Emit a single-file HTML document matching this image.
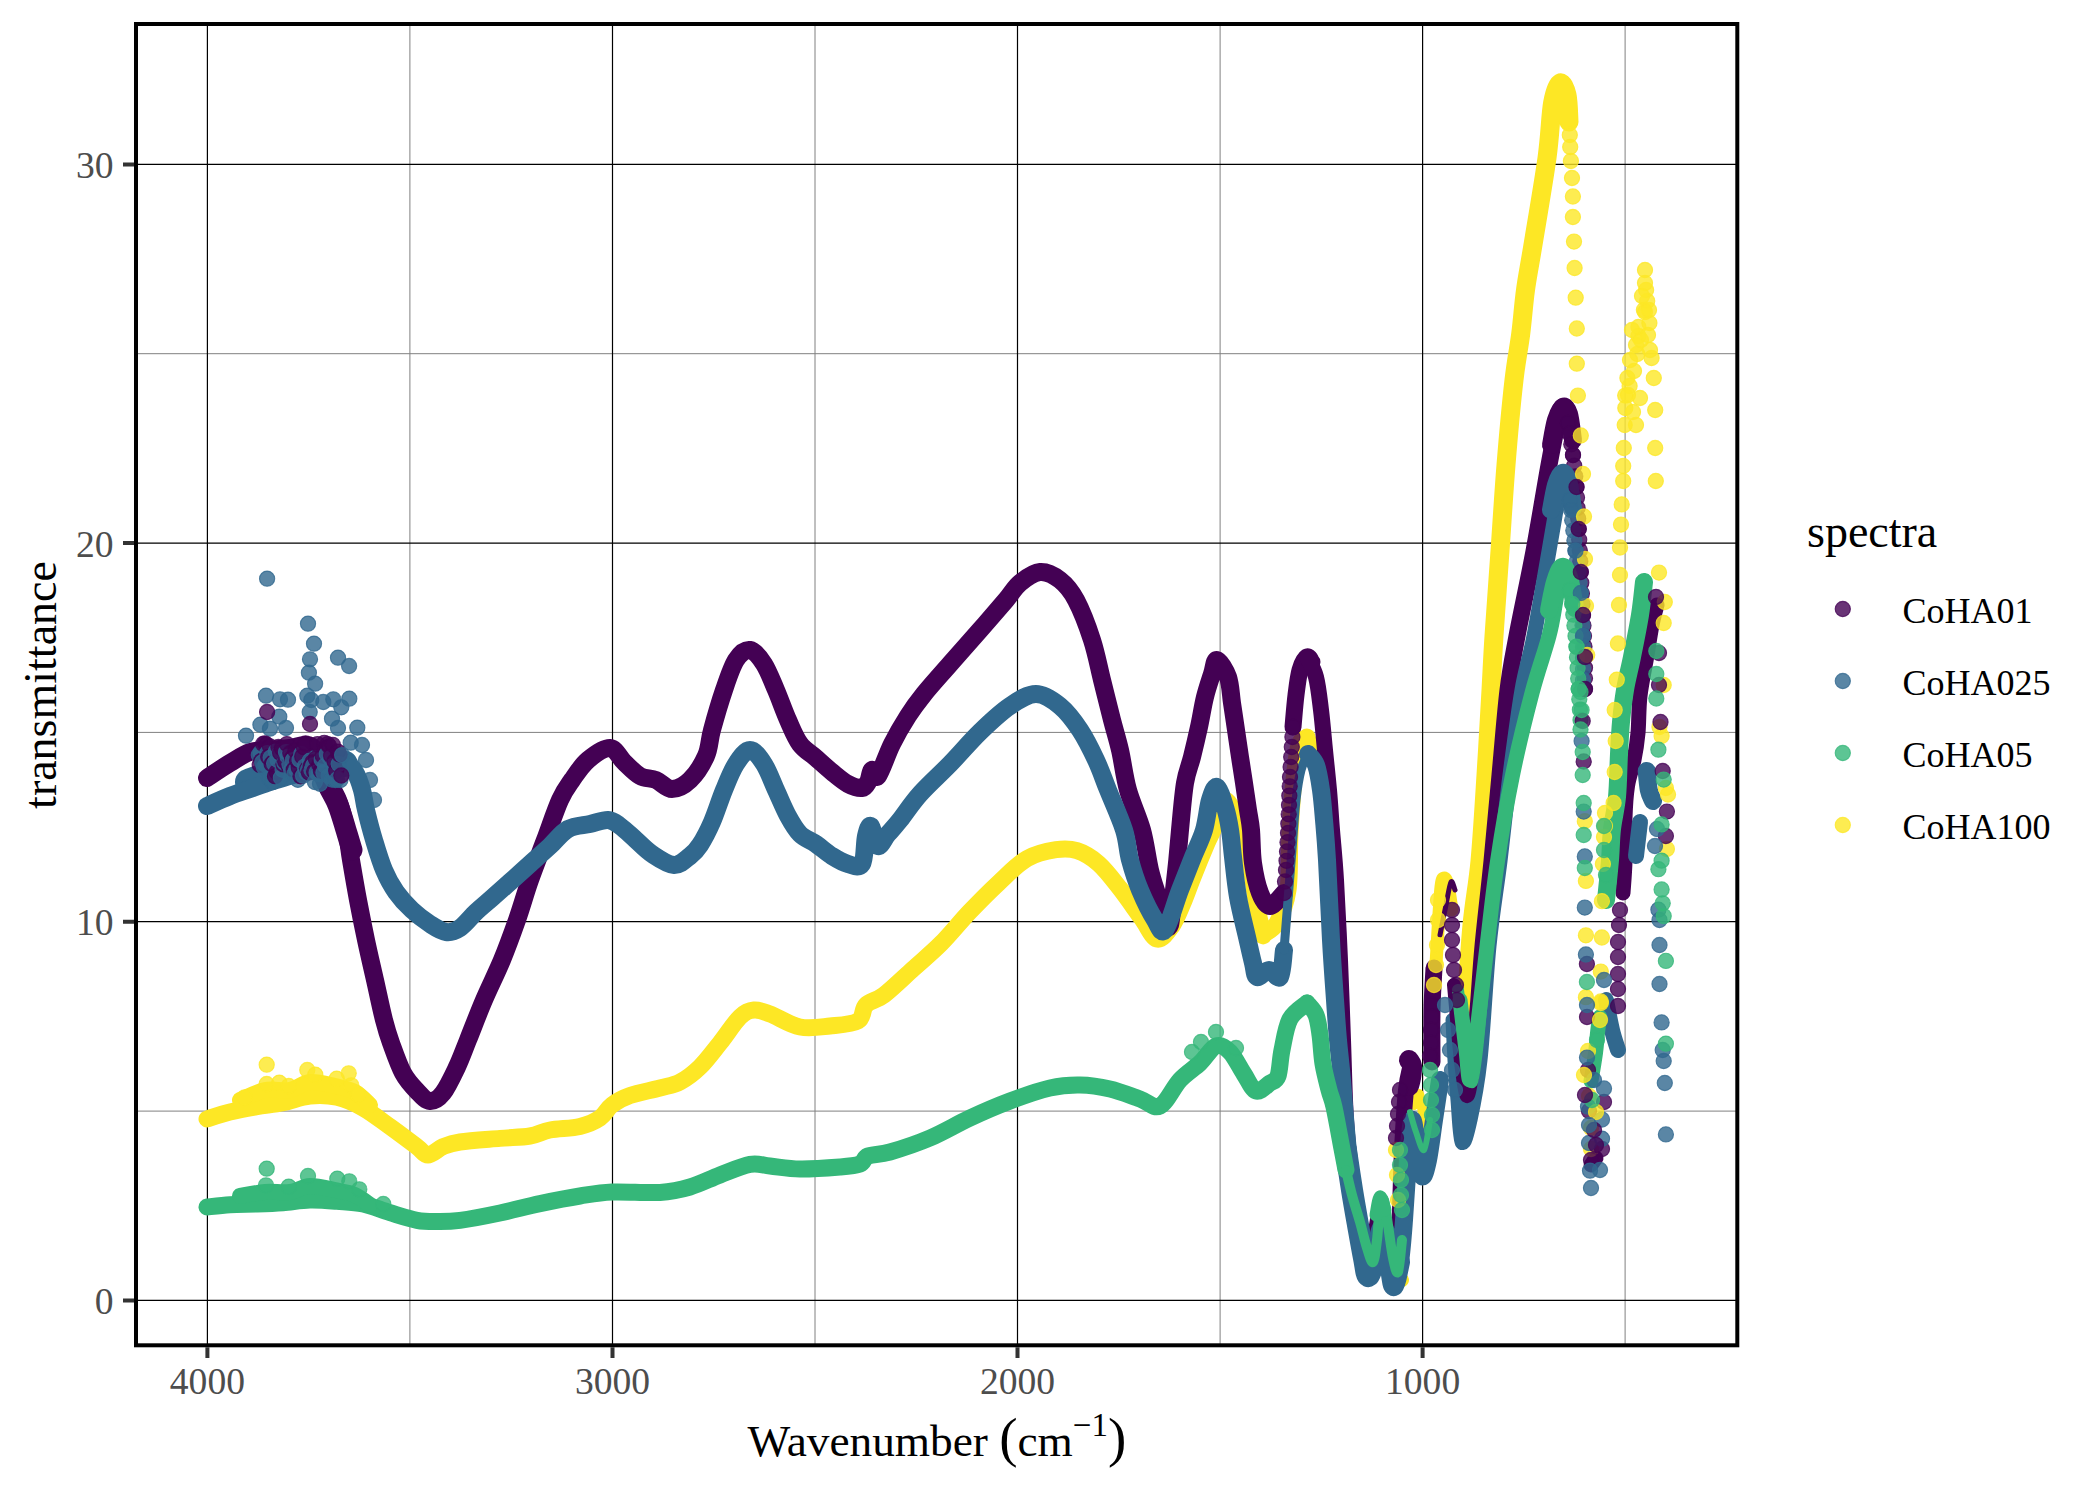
<!DOCTYPE html>
<html><head><meta charset="utf-8"><style>html,body{margin:0;padding:0;background:#fff;width:2100px;height:1500px;overflow:hidden}svg{display:block}</style></head><body>
<svg width="2100" height="1500" viewBox="0 0 2100 1500">
<rect width="2100" height="1500" fill="#fff"/>
<defs><clipPath id="pc"><rect x="136" y="24" width="1601.3" height="1321.3"/></clipPath></defs>
<path d="M409.9 24V1345.3M815.0 24V1345.3M1220.1 24V1345.3M1625.1 24V1345.3M136 1111.1H1737.3M136 732.4H1737.3M136 353.7H1737.3" stroke="#808080" stroke-width="1" fill="none"/>
<path d="M207.4 24V1345.3M612.5 24V1345.3M1017.5 24V1345.3M1422.6 24V1345.3M136 1300.4H1737.3M136 921.7H1737.3M136 543.1H1737.3M136 164.4H1737.3" stroke="#000" stroke-width="1.2" fill="none"/>
<g clip-path="url(#pc)">
<path d="M207.0 1119.0C210.8 1117.8 221.7 1114.0 230.0 1112.0C238.3 1110.0 248.2 1108.2 257.0 1106.7C265.8 1105.2 274.2 1104.5 283.0 1102.7C291.8 1100.9 301.0 1096.9 310.0 1096.0C319.0 1095.1 328.2 1095.3 337.0 1097.3C345.8 1099.3 354.2 1103.1 363.0 1108.0C371.8 1112.9 381.0 1120.2 390.0 1126.7C399.0 1133.2 410.7 1142.0 417.0 1146.7C423.3 1151.4 423.7 1155.0 428.0 1155.0C432.3 1155.0 437.7 1148.9 443.0 1146.7C448.3 1144.5 450.5 1143.4 460.0 1142.0C469.5 1140.6 488.3 1139.4 500.0 1138.4C511.7 1137.4 521.7 1137.4 530.0 1136.0C538.3 1134.6 541.7 1131.6 550.0 1130.0C558.3 1128.4 571.7 1128.4 580.0 1126.4C588.3 1124.4 594.7 1121.6 600.0 1118.0C605.3 1114.4 607.0 1108.7 612.0 1105.0C617.0 1101.3 622.0 1098.4 630.0 1095.6C638.0 1092.8 651.7 1090.3 660.0 1088.0C668.3 1085.7 673.3 1085.5 680.0 1082.0C686.7 1078.5 693.3 1073.5 700.0 1067.0C706.7 1060.5 713.3 1051.3 720.0 1043.0C726.7 1034.7 734.3 1022.5 740.0 1017.0C745.7 1011.5 749.0 1010.5 754.0 1010.0C759.0 1009.5 762.3 1011.2 770.0 1014.0C777.7 1016.8 790.0 1025.0 800.0 1027.0C810.0 1029.0 820.3 1027.0 830.0 1026.0C839.7 1025.0 852.0 1024.5 858.0 1021.0C864.0 1017.5 861.7 1009.3 866.0 1005.0C870.3 1000.7 876.2 1001.0 884.0 995.0C891.8 989.0 903.5 977.6 913.0 969.0C922.5 960.4 931.5 953.2 941.0 943.6C950.5 934.0 960.4 921.5 970.0 911.4C979.6 901.3 989.1 891.7 998.6 882.9C1008.1 874.1 1017.4 864.1 1027.0 858.6C1036.6 853.1 1047.7 851.0 1056.0 849.7C1064.3 848.4 1069.9 848.4 1077.0 850.7C1084.1 853.0 1091.4 857.3 1098.6 863.6C1105.8 869.9 1112.9 879.5 1120.0 888.6C1127.1 897.7 1135.2 909.6 1141.4 918.0C1147.6 926.4 1151.9 937.7 1157.0 939.0C1162.1 940.3 1167.7 932.0 1172.0 926.0C1176.3 920.0 1179.5 911.2 1183.0 903.0C1186.5 894.8 1189.0 887.0 1193.0 877.0C1197.0 867.0 1203.7 850.8 1207.0 843.0C1210.3 835.2 1210.0 837.2 1213.0 830.0C1216.0 822.8 1220.5 800.8 1225.0 800.0C1229.5 799.2 1236.3 818.3 1240.0 825.0C1243.7 831.7 1244.2 826.3 1247.0 840.0C1249.8 853.7 1254.3 891.5 1257.0 907.0C1259.7 922.5 1261.8 928.5 1263.0 933.0C1264.2 937.5 1261.7 935.7 1264.0 934.0C1266.3 932.3 1273.0 930.3 1277.0 923.0C1281.0 915.7 1285.8 905.0 1288.0 890.0C1290.2 875.0 1289.0 851.3 1290.0 833.0C1291.0 814.7 1292.5 794.7 1294.0 780.0C1295.5 765.3 1296.8 752.2 1299.0 745.0C1301.2 737.8 1305.7 738.3 1307.0 737.0" stroke="#FDE725" stroke-width="17" stroke-linecap="round" stroke-linejoin="round" fill="none"/>
<path d="M240.0 1100.0C244.2 1098.3 256.7 1091.7 265.0 1090.0C273.3 1088.3 282.5 1091.3 290.0 1090.0C297.5 1088.7 302.5 1082.7 310.0 1082.0C317.5 1081.3 327.5 1084.3 335.0 1086.0C342.5 1087.7 349.2 1088.8 355.0 1092.0C360.8 1095.2 367.5 1102.8 370.0 1105.0" stroke="#FDE725" stroke-width="16" stroke-linecap="round" stroke-linejoin="round" fill="none"/>
<circle cx="266.7" cy="1064.7" r="7.6" fill="#FDE725" fill-opacity="0.8" stroke="#FDE725" stroke-opacity="0.8" stroke-width="1.1"/>
<circle cx="307.3" cy="1070.0" r="7.6" fill="#FDE725" fill-opacity="0.8" stroke="#FDE725" stroke-opacity="0.8" stroke-width="1.1"/>
<circle cx="348.7" cy="1073.3" r="7.6" fill="#FDE725" fill-opacity="0.8" stroke="#FDE725" stroke-opacity="0.8" stroke-width="1.1"/>
<circle cx="266.7" cy="1084.0" r="7.6" fill="#FDE725" fill-opacity="0.8" stroke="#FDE725" stroke-opacity="0.8" stroke-width="1.1"/>
<circle cx="279.3" cy="1082.7" r="7.6" fill="#FDE725" fill-opacity="0.8" stroke="#FDE725" stroke-opacity="0.8" stroke-width="1.1"/>
<circle cx="288.7" cy="1086.0" r="7.6" fill="#FDE725" fill-opacity="0.8" stroke="#FDE725" stroke-opacity="0.8" stroke-width="1.1"/>
<circle cx="315.3" cy="1074.7" r="7.6" fill="#FDE725" fill-opacity="0.8" stroke="#FDE725" stroke-opacity="0.8" stroke-width="1.1"/>
<circle cx="336.7" cy="1078.7" r="7.6" fill="#FDE725" fill-opacity="0.8" stroke="#FDE725" stroke-opacity="0.8" stroke-width="1.1"/>
<circle cx="351.3" cy="1085.3" r="7.6" fill="#FDE725" fill-opacity="0.8" stroke="#FDE725" stroke-opacity="0.8" stroke-width="1.1"/>
<circle cx="358.0" cy="1094.7" r="7.6" fill="#FDE725" fill-opacity="0.8" stroke="#FDE725" stroke-opacity="0.8" stroke-width="1.1"/>
<circle cx="244.7" cy="1097.3" r="7.6" fill="#FDE725" fill-opacity="0.8" stroke="#FDE725" stroke-opacity="0.8" stroke-width="1.1"/>
<path d="M1307.0 737.0C1308.5 739.5 1313.5 743.2 1316.0 752.0C1318.5 760.8 1320.3 775.3 1322.0 790.0C1323.7 804.7 1324.7 821.7 1326.0 840.0C1327.3 858.3 1328.8 880.0 1330.0 900.0C1331.2 920.0 1332.0 941.7 1333.0 960.0C1334.0 978.3 1334.8 993.3 1336.0 1010.0C1337.2 1026.7 1338.7 1041.7 1340.0 1060.0C1341.3 1078.3 1342.3 1100.0 1344.0 1120.0C1345.7 1140.0 1347.7 1161.7 1350.0 1180.0C1352.3 1198.3 1355.3 1216.3 1358.0 1230.0C1360.7 1243.7 1363.0 1256.0 1366.0 1262.0C1369.0 1268.0 1373.0 1273.0 1376.0 1266.0C1379.0 1259.0 1381.7 1222.7 1384.0 1220.0C1386.3 1217.3 1388.0 1240.7 1390.0 1250.0C1392.0 1259.3 1394.0 1271.0 1396.0 1276.0C1398.0 1281.0 1401.0 1279.3 1402.0 1280.0" stroke="#FDE725" stroke-width="14" stroke-linecap="round" stroke-linejoin="round" fill="none"/>
<path d="M1414.0 1105.0C1414.8 1103.2 1417.3 1091.5 1419.0 1094.0C1420.7 1096.5 1422.5 1111.0 1424.0 1120.0C1425.5 1129.0 1426.7 1148.0 1428.0 1148.0C1429.3 1148.0 1431.3 1124.7 1432.0 1120.0" stroke="#FDE725" stroke-width="10" stroke-linecap="round" stroke-linejoin="round" fill="none"/>
<path d="M1434.0 1000.0C1434.7 988.3 1436.8 948.8 1438.0 930.0C1439.2 911.2 1440.0 895.7 1441.0 887.0C1442.0 878.3 1442.8 878.3 1444.0 878.0C1445.2 877.7 1446.7 879.7 1448.0 885.0C1449.3 890.3 1451.3 905.8 1452.0 910.0" stroke="#FDE725" stroke-width="13" stroke-linecap="round" stroke-linejoin="round" fill="none"/>
<path d="M1466.0 1008.0C1467.0 994.2 1469.7 949.5 1472.0 925.0C1474.3 900.5 1477.7 886.0 1480.0 861.0C1482.3 836.0 1484.2 803.5 1486.0 775.0C1487.8 746.5 1489.7 713.2 1491.0 690.0C1492.3 666.8 1492.5 659.2 1494.0 636.0C1495.5 612.8 1498.0 579.5 1500.0 551.0C1502.0 522.5 1503.7 493.5 1506.0 465.0C1508.3 436.5 1511.5 401.8 1514.0 380.0C1516.5 358.2 1518.8 349.0 1520.7 334.0C1522.6 319.0 1523.5 304.7 1525.5 290.0C1527.5 275.3 1529.2 268.0 1532.8 246.0C1536.4 224.0 1543.7 181.8 1547.0 158.0C1550.3 134.2 1550.4 115.5 1552.6 103.0C1554.8 90.5 1557.6 84.3 1560.0 83.0C1562.4 81.7 1565.5 88.5 1567.0 95.0C1568.5 101.5 1568.7 117.5 1569.0 122.0" stroke="#FDE725" stroke-width="19" stroke-linecap="round" stroke-linejoin="round" fill="none"/>
<path d="M207.0 778.0C210.8 775.5 222.8 767.3 230.0 763.0C237.2 758.7 243.3 754.2 250.0 752.0C256.7 749.8 263.3 750.7 270.0 750.0C276.7 749.3 284.2 748.8 290.0 748.0C295.8 747.2 300.8 744.7 305.0 745.0C309.2 745.3 311.7 745.0 315.0 750.0C318.3 755.0 321.2 766.7 325.0 775.0C328.8 783.3 334.8 792.5 338.0 800.0C341.2 807.5 342.3 813.3 344.0 820.0C345.7 826.7 346.8 833.3 348.0 840.0C349.2 846.7 349.3 850.0 351.0 860.0C352.7 870.0 355.5 886.7 358.0 900.0C360.5 913.3 363.2 926.7 366.0 940.0C368.8 953.3 372.0 966.7 375.0 980.0C378.0 993.3 381.3 1009.5 384.0 1020.0C386.7 1030.5 387.8 1034.2 391.0 1043.0C394.2 1051.8 398.7 1065.0 403.0 1073.0C407.3 1081.0 412.5 1086.3 417.0 1091.0C421.5 1095.7 425.7 1100.7 430.0 1101.0C434.3 1101.3 438.5 1098.7 443.0 1093.0C447.5 1087.3 452.8 1075.8 457.0 1067.0C461.2 1058.2 463.5 1051.2 468.0 1040.0C472.5 1028.8 478.3 1013.3 484.0 1000.0C489.7 986.7 496.5 973.3 502.0 960.0C507.5 946.7 512.3 933.3 517.0 920.0C521.7 906.7 525.3 893.3 530.0 880.0C534.7 866.7 540.0 853.3 545.0 840.0C550.0 826.7 555.5 810.0 560.0 800.0C564.5 790.0 567.3 786.7 572.0 780.0C576.7 773.3 581.7 765.3 588.0 760.0C594.3 754.7 604.0 747.7 610.0 748.0C616.0 748.3 619.0 757.3 624.0 762.0C629.0 766.7 634.7 773.0 640.0 776.0C645.3 779.0 650.7 777.8 656.0 780.0C661.3 782.2 666.3 789.0 672.0 789.0C677.7 789.0 684.3 785.5 690.0 780.0C695.7 774.5 702.3 764.3 706.0 756.0C709.7 747.7 709.0 741.0 712.0 730.0C715.0 719.0 720.0 701.7 724.0 690.0C728.0 678.3 731.7 666.7 736.0 660.0C740.3 653.3 745.3 649.3 750.0 650.0C754.7 650.7 759.7 657.3 764.0 664.0C768.3 670.7 772.0 680.7 776.0 690.0C780.0 699.3 784.0 711.0 788.0 720.0C792.0 729.0 795.3 737.7 800.0 744.0C804.7 750.3 810.7 753.3 816.0 758.0C821.3 762.7 826.7 767.7 832.0 772.0C837.3 776.3 843.0 781.3 848.0 784.0C853.0 786.7 858.7 788.3 862.0 788.0C865.3 787.7 866.3 785.0 868.0 782.0C869.7 779.0 870.3 771.0 872.0 770.0C873.7 769.0 874.7 780.3 878.0 776.0C881.3 771.7 887.0 754.0 892.0 744.0C897.0 734.0 902.7 724.3 908.0 716.0C913.3 707.7 917.0 702.7 924.0 694.0C931.0 685.3 940.7 674.7 950.0 664.0C959.3 653.3 970.7 640.7 980.0 630.0C989.3 619.3 999.3 607.8 1006.0 600.0C1012.7 592.2 1014.3 587.7 1020.0 583.0C1025.7 578.3 1033.3 572.5 1040.0 572.0C1046.7 571.5 1054.0 575.3 1060.0 580.0C1066.0 584.7 1070.7 590.0 1076.0 600.0C1081.3 610.0 1087.7 626.7 1092.0 640.0C1096.3 653.3 1098.7 666.7 1102.0 680.0C1105.3 693.3 1109.0 708.3 1112.0 720.0C1115.0 731.7 1117.3 738.3 1120.0 750.0C1122.7 761.7 1124.3 776.7 1128.0 790.0C1131.7 803.3 1138.3 816.7 1142.0 830.0C1145.7 843.3 1147.3 858.8 1150.0 870.0C1152.7 881.2 1155.5 888.7 1158.0 897.0C1160.5 905.3 1163.0 915.3 1165.0 920.0C1167.0 924.7 1168.5 930.0 1170.0 925.0C1171.5 920.0 1172.8 900.3 1174.0 890.0C1175.2 879.7 1176.0 873.0 1177.0 863.0C1178.0 853.0 1178.7 843.3 1180.0 830.0C1181.3 816.7 1183.0 795.2 1185.0 783.0C1187.0 770.8 1189.7 766.3 1192.0 757.0C1194.3 747.7 1196.8 737.0 1199.0 727.0C1201.2 717.0 1202.8 705.8 1205.0 697.0C1207.2 688.2 1210.0 680.2 1212.0 674.0C1214.0 667.8 1214.3 659.5 1217.0 660.0C1219.7 660.5 1225.5 669.8 1228.0 677.0C1230.5 684.2 1230.7 694.2 1232.0 703.0C1233.3 711.8 1234.7 721.0 1236.0 730.0C1237.3 739.0 1238.7 748.2 1240.0 757.0C1241.3 765.8 1242.7 774.2 1244.0 783.0C1245.3 791.8 1246.8 802.2 1248.0 810.0C1249.2 817.8 1250.2 821.2 1251.0 830.0C1251.8 838.8 1251.5 852.5 1253.0 863.0C1254.5 873.5 1257.2 885.8 1260.0 893.0C1262.8 900.2 1266.0 906.0 1270.0 906.0C1274.0 906.0 1281.7 895.2 1284.0 893.0" stroke="#440154" stroke-width="18" stroke-linecap="round" stroke-linejoin="round" fill="none"/>
<path d="M1293.0 727.0C1293.5 721.7 1294.8 704.5 1296.0 695.0C1297.2 685.5 1298.2 676.3 1300.0 670.0C1301.8 663.7 1305.0 658.3 1307.0 657.0C1309.0 655.7 1311.2 661.2 1312.0 662.0" stroke="#440154" stroke-width="17" stroke-linecap="round" stroke-linejoin="round" fill="none"/>
<path d="M318.0 760.0C319.7 764.2 324.7 777.5 328.0 785.0C331.3 792.5 335.0 797.5 338.0 805.0C341.0 812.5 343.7 822.5 346.0 830.0C348.3 837.5 351.0 846.7 352.0 850.0" stroke="#440154" stroke-width="21" stroke-linecap="round" stroke-linejoin="round" fill="none"/>
<path d="M1307.0 657.0C1308.5 660.3 1313.7 668.2 1316.0 677.0C1318.3 685.8 1319.5 697.8 1321.0 710.0C1322.5 722.2 1323.7 736.7 1325.0 750.0C1326.3 763.3 1327.8 776.7 1329.0 790.0C1330.2 803.3 1330.8 815.0 1332.0 830.0C1333.2 845.0 1334.7 858.3 1336.0 880.0C1337.3 901.7 1338.8 933.3 1340.0 960.0C1341.2 986.7 1342.0 1013.3 1343.0 1040.0C1344.0 1066.7 1344.5 1096.7 1346.0 1120.0C1347.5 1143.3 1349.7 1161.7 1352.0 1180.0C1354.3 1198.3 1357.3 1216.0 1360.0 1230.0C1362.7 1244.0 1365.3 1264.0 1368.0 1264.0C1370.7 1264.0 1374.0 1238.2 1376.0 1230.0C1378.0 1221.8 1378.3 1213.3 1380.0 1215.0C1381.7 1216.7 1383.8 1229.8 1386.0 1240.0C1388.2 1250.2 1390.8 1277.7 1393.0 1276.0C1395.2 1274.3 1397.5 1251.0 1399.0 1230.0C1400.5 1209.0 1400.8 1173.3 1402.0 1150.0C1403.2 1126.7 1404.5 1104.3 1406.0 1090.0C1407.5 1075.7 1410.2 1068.3 1411.0 1064.0" stroke="#440154" stroke-width="16" stroke-linecap="round" stroke-linejoin="round" fill="none"/>
<path d="M1409.0 1060.0C1409.5 1061.0 1411.7 1063.0 1412.0 1066.0C1412.3 1069.0 1411.5 1074.7 1411.0 1078.0C1410.5 1081.3 1409.3 1084.7 1409.0 1086.0" stroke="#440154" stroke-width="20" stroke-linecap="round" stroke-linejoin="round" fill="none"/>
<path d="M1432.0 1062.0C1432.0 1053.3 1431.7 1025.7 1432.0 1010.0C1432.3 994.3 1433.7 975.0 1434.0 968.0" stroke="#440154" stroke-width="17" stroke-linecap="round" stroke-linejoin="round" fill="none"/>
<path d="M1440.0 935.0C1441.0 930.0 1444.2 913.8 1446.0 905.0C1447.8 896.2 1449.5 884.5 1451.0 882.0C1452.5 879.5 1454.3 888.7 1455.0 890.0" stroke="#440154" stroke-width="5" stroke-linecap="round" stroke-linejoin="round" fill="none"/>
<path d="M1458.0 1020.0C1459.0 1030.0 1462.3 1067.0 1464.0 1080.0C1465.7 1093.0 1466.5 1101.3 1468.0 1098.0C1469.5 1094.7 1471.3 1074.7 1473.0 1060.0C1474.7 1045.3 1476.3 1029.0 1478.0 1010.0C1479.7 991.0 1480.7 970.8 1483.0 946.0C1485.3 921.2 1489.2 889.5 1492.0 861.0C1494.8 832.5 1497.3 803.5 1500.0 775.0C1502.7 746.5 1505.2 713.2 1508.0 690.0C1510.8 666.8 1512.7 659.2 1517.0 636.0C1521.3 612.8 1528.7 579.5 1534.0 551.0C1539.3 522.5 1545.3 485.2 1549.0 465.0C1552.7 444.8 1553.8 439.7 1556.0 430.0C1558.2 420.3 1560.0 408.2 1562.0 407.0C1564.0 405.8 1567.0 420.3 1568.0 423.0" stroke="#440154" stroke-width="17" stroke-linecap="round" stroke-linejoin="round" fill="none"/>
<path d="M1551.0 445.0C1551.8 440.8 1554.0 426.3 1556.0 420.0C1558.0 413.7 1560.8 408.0 1563.0 407.0C1565.2 406.0 1567.3 408.5 1569.0 414.0C1570.7 419.5 1572.3 435.7 1573.0 440.0" stroke="#440154" stroke-width="18" stroke-linecap="round" stroke-linejoin="round" fill="none"/>
<circle cx="1568.0" cy="423.0" r="7.6" fill="#440154" fill-opacity="0.8" stroke="#440154" stroke-opacity="0.8" stroke-width="1.1"/>
<circle cx="1569.7" cy="433.7" r="7.6" fill="#440154" fill-opacity="0.8" stroke="#440154" stroke-opacity="0.8" stroke-width="1.1"/>
<circle cx="1571.3" cy="444.3" r="7.6" fill="#440154" fill-opacity="0.8" stroke="#440154" stroke-opacity="0.8" stroke-width="1.1"/>
<circle cx="1573.0" cy="455.0" r="7.6" fill="#440154" fill-opacity="0.8" stroke="#440154" stroke-opacity="0.8" stroke-width="1.1"/>
<circle cx="1574.2" cy="465.7" r="7.6" fill="#440154" fill-opacity="0.8" stroke="#440154" stroke-opacity="0.8" stroke-width="1.1"/>
<circle cx="1575.3" cy="476.3" r="7.6" fill="#440154" fill-opacity="0.8" stroke="#440154" stroke-opacity="0.8" stroke-width="1.1"/>
<circle cx="1576.5" cy="487.0" r="7.6" fill="#440154" fill-opacity="0.8" stroke="#440154" stroke-opacity="0.8" stroke-width="1.1"/>
<circle cx="1577.0" cy="497.5" r="7.6" fill="#440154" fill-opacity="0.8" stroke="#440154" stroke-opacity="0.8" stroke-width="1.1"/>
<circle cx="1577.6" cy="508.0" r="7.6" fill="#440154" fill-opacity="0.8" stroke="#440154" stroke-opacity="0.8" stroke-width="1.1"/>
<circle cx="1578.2" cy="518.5" r="7.6" fill="#440154" fill-opacity="0.8" stroke="#440154" stroke-opacity="0.8" stroke-width="1.1"/>
<circle cx="1578.7" cy="529.0" r="7.6" fill="#440154" fill-opacity="0.8" stroke="#440154" stroke-opacity="0.8" stroke-width="1.1"/>
<circle cx="1579.2" cy="539.8" r="7.6" fill="#440154" fill-opacity="0.8" stroke="#440154" stroke-opacity="0.8" stroke-width="1.1"/>
<circle cx="1579.8" cy="550.5" r="7.6" fill="#440154" fill-opacity="0.8" stroke="#440154" stroke-opacity="0.8" stroke-width="1.1"/>
<circle cx="1580.3" cy="561.2" r="7.6" fill="#440154" fill-opacity="0.8" stroke="#440154" stroke-opacity="0.8" stroke-width="1.1"/>
<circle cx="1580.8" cy="572.0" r="7.6" fill="#440154" fill-opacity="0.8" stroke="#440154" stroke-opacity="0.8" stroke-width="1.1"/>
<circle cx="1581.3" cy="582.8" r="7.6" fill="#440154" fill-opacity="0.8" stroke="#440154" stroke-opacity="0.8" stroke-width="1.1"/>
<circle cx="1581.9" cy="593.5" r="7.6" fill="#440154" fill-opacity="0.8" stroke="#440154" stroke-opacity="0.8" stroke-width="1.1"/>
<circle cx="1582.5" cy="604.2" r="7.6" fill="#440154" fill-opacity="0.8" stroke="#440154" stroke-opacity="0.8" stroke-width="1.1"/>
<circle cx="1583.0" cy="615.0" r="7.6" fill="#440154" fill-opacity="0.8" stroke="#440154" stroke-opacity="0.8" stroke-width="1.1"/>
<circle cx="1583.5" cy="625.5" r="7.6" fill="#440154" fill-opacity="0.8" stroke="#440154" stroke-opacity="0.8" stroke-width="1.1"/>
<circle cx="1584.0" cy="636.0" r="7.6" fill="#440154" fill-opacity="0.8" stroke="#440154" stroke-opacity="0.8" stroke-width="1.1"/>
<circle cx="1584.5" cy="646.5" r="7.6" fill="#440154" fill-opacity="0.8" stroke="#440154" stroke-opacity="0.8" stroke-width="1.1"/>
<circle cx="1585.0" cy="657.0" r="7.6" fill="#440154" fill-opacity="0.8" stroke="#440154" stroke-opacity="0.8" stroke-width="1.1"/>
<circle cx="1585.0" cy="667.7" r="7.6" fill="#440154" fill-opacity="0.8" stroke="#440154" stroke-opacity="0.8" stroke-width="1.1"/>
<circle cx="1585.0" cy="678.3" r="7.6" fill="#440154" fill-opacity="0.8" stroke="#440154" stroke-opacity="0.8" stroke-width="1.1"/>
<circle cx="1585.0" cy="689.0" r="7.6" fill="#440154" fill-opacity="0.8" stroke="#440154" stroke-opacity="0.8" stroke-width="1.1"/>
<path d="M1623.0 893.0C1623.3 887.7 1624.7 873.5 1625.0 861.0C1625.3 848.5 1624.6 830.5 1625.0 818.0C1625.4 805.5 1626.0 795.7 1627.5 786.0C1629.0 776.3 1632.2 768.8 1634.0 760.0C1635.8 751.2 1637.0 743.7 1638.0 733.0C1639.0 722.3 1638.5 708.7 1640.0 696.0C1641.5 683.3 1644.7 668.8 1646.7 657.0C1648.7 645.2 1650.3 633.7 1652.0 625.0C1653.7 616.3 1656.2 608.3 1657.0 605.0" stroke="#440154" stroke-width="15" stroke-linecap="round" stroke-linejoin="round" fill="none"/>
<path d="M1591.0 1165.0 L1596.0 1158.0" stroke="#440154" stroke-width="15" stroke-linecap="round" stroke-linejoin="round" fill="none"/>
<path d="M248.0 782.0C251.7 780.7 261.3 776.7 270.0 774.0C278.7 771.3 290.0 768.0 300.0 766.0C310.0 764.0 322.5 762.3 330.0 762.0C337.5 761.7 342.5 763.7 345.0 764.0" stroke="#31688E" stroke-width="26" stroke-linecap="round" stroke-linejoin="round" fill="none"/>
<circle cx="267.1" cy="578.7" r="7.6" fill="#31688E" fill-opacity="0.8" stroke="#31688E" stroke-opacity="0.8" stroke-width="1.1"/>
<circle cx="308.0" cy="623.7" r="7.6" fill="#31688E" fill-opacity="0.8" stroke="#31688E" stroke-opacity="0.8" stroke-width="1.1"/>
<circle cx="314.0" cy="643.7" r="7.6" fill="#31688E" fill-opacity="0.8" stroke="#31688E" stroke-opacity="0.8" stroke-width="1.1"/>
<circle cx="310.0" cy="659.3" r="7.6" fill="#31688E" fill-opacity="0.8" stroke="#31688E" stroke-opacity="0.8" stroke-width="1.1"/>
<circle cx="308.9" cy="672.7" r="7.6" fill="#31688E" fill-opacity="0.8" stroke="#31688E" stroke-opacity="0.8" stroke-width="1.1"/>
<circle cx="315.1" cy="683.7" r="7.6" fill="#31688E" fill-opacity="0.8" stroke="#31688E" stroke-opacity="0.8" stroke-width="1.1"/>
<circle cx="338.0" cy="657.7" r="7.6" fill="#31688E" fill-opacity="0.8" stroke="#31688E" stroke-opacity="0.8" stroke-width="1.1"/>
<circle cx="349.1" cy="666.0" r="7.6" fill="#31688E" fill-opacity="0.8" stroke="#31688E" stroke-opacity="0.8" stroke-width="1.1"/>
<circle cx="266.0" cy="695.7" r="7.6" fill="#31688E" fill-opacity="0.8" stroke="#31688E" stroke-opacity="0.8" stroke-width="1.1"/>
<circle cx="280.0" cy="699.3" r="7.6" fill="#31688E" fill-opacity="0.8" stroke="#31688E" stroke-opacity="0.8" stroke-width="1.1"/>
<circle cx="288.0" cy="699.7" r="7.6" fill="#31688E" fill-opacity="0.8" stroke="#31688E" stroke-opacity="0.8" stroke-width="1.1"/>
<circle cx="307.3" cy="695.7" r="7.6" fill="#31688E" fill-opacity="0.8" stroke="#31688E" stroke-opacity="0.8" stroke-width="1.1"/>
<circle cx="311.3" cy="700.0" r="7.6" fill="#31688E" fill-opacity="0.8" stroke="#31688E" stroke-opacity="0.8" stroke-width="1.1"/>
<circle cx="323.3" cy="702.0" r="7.6" fill="#31688E" fill-opacity="0.8" stroke="#31688E" stroke-opacity="0.8" stroke-width="1.1"/>
<circle cx="333.3" cy="699.3" r="7.6" fill="#31688E" fill-opacity="0.8" stroke="#31688E" stroke-opacity="0.8" stroke-width="1.1"/>
<circle cx="349.3" cy="698.7" r="7.6" fill="#31688E" fill-opacity="0.8" stroke="#31688E" stroke-opacity="0.8" stroke-width="1.1"/>
<circle cx="341.3" cy="707.3" r="7.6" fill="#31688E" fill-opacity="0.8" stroke="#31688E" stroke-opacity="0.8" stroke-width="1.1"/>
<circle cx="309.7" cy="712.0" r="7.6" fill="#31688E" fill-opacity="0.8" stroke="#31688E" stroke-opacity="0.8" stroke-width="1.1"/>
<circle cx="332.0" cy="718.7" r="7.6" fill="#31688E" fill-opacity="0.8" stroke="#31688E" stroke-opacity="0.8" stroke-width="1.1"/>
<circle cx="279.3" cy="716.7" r="7.6" fill="#31688E" fill-opacity="0.8" stroke="#31688E" stroke-opacity="0.8" stroke-width="1.1"/>
<circle cx="260.4" cy="724.7" r="7.6" fill="#31688E" fill-opacity="0.8" stroke="#31688E" stroke-opacity="0.8" stroke-width="1.1"/>
<circle cx="246.0" cy="735.7" r="7.6" fill="#31688E" fill-opacity="0.8" stroke="#31688E" stroke-opacity="0.8" stroke-width="1.1"/>
<circle cx="357.3" cy="727.7" r="7.6" fill="#31688E" fill-opacity="0.8" stroke="#31688E" stroke-opacity="0.8" stroke-width="1.1"/>
<circle cx="350.7" cy="742.7" r="7.6" fill="#31688E" fill-opacity="0.8" stroke="#31688E" stroke-opacity="0.8" stroke-width="1.1"/>
<circle cx="338.0" cy="728.0" r="7.6" fill="#31688E" fill-opacity="0.8" stroke="#31688E" stroke-opacity="0.8" stroke-width="1.1"/>
<circle cx="286.0" cy="728.0" r="7.6" fill="#31688E" fill-opacity="0.8" stroke="#31688E" stroke-opacity="0.8" stroke-width="1.1"/>
<circle cx="270.0" cy="728.7" r="7.6" fill="#31688E" fill-opacity="0.8" stroke="#31688E" stroke-opacity="0.8" stroke-width="1.1"/>
<circle cx="362.0" cy="745.0" r="7.6" fill="#31688E" fill-opacity="0.8" stroke="#31688E" stroke-opacity="0.8" stroke-width="1.1"/>
<circle cx="366.0" cy="760.0" r="7.6" fill="#31688E" fill-opacity="0.8" stroke="#31688E" stroke-opacity="0.8" stroke-width="1.1"/>
<circle cx="370.0" cy="780.0" r="7.6" fill="#31688E" fill-opacity="0.8" stroke="#31688E" stroke-opacity="0.8" stroke-width="1.1"/>
<circle cx="374.0" cy="800.0" r="7.6" fill="#31688E" fill-opacity="0.8" stroke="#31688E" stroke-opacity="0.8" stroke-width="1.1"/>
<path d="M207.0 806.0C210.8 804.3 222.8 798.8 230.0 796.0C237.2 793.2 243.3 791.3 250.0 789.0C256.7 786.7 263.3 784.2 270.0 782.0C276.7 779.8 283.3 778.0 290.0 776.0C296.7 774.0 303.3 771.8 310.0 770.0C316.7 768.2 324.2 766.2 330.0 765.0C335.8 763.8 340.8 761.8 345.0 763.0C349.2 764.2 352.2 767.5 355.0 772.0C357.8 776.5 360.2 783.7 362.0 790.0C363.8 796.3 364.0 801.7 366.0 810.0C368.0 818.3 371.0 830.0 374.0 840.0C377.0 850.0 380.3 861.3 384.0 870.0C387.7 878.7 391.3 885.3 396.0 892.0C400.7 898.7 406.3 904.7 412.0 910.0C417.7 915.3 424.3 920.3 430.0 924.0C435.7 927.7 441.0 931.3 446.0 932.0C451.0 932.7 455.0 931.3 460.0 928.0C465.0 924.7 470.7 917.0 476.0 912.0C481.3 907.0 486.3 903.0 492.0 898.0C497.7 893.0 503.7 887.7 510.0 882.0C516.3 876.3 523.3 870.0 530.0 864.0C536.7 858.0 543.7 851.8 550.0 846.0C556.3 840.2 561.3 832.7 568.0 829.0C574.7 825.3 583.3 825.5 590.0 824.0C596.7 822.5 603.0 819.7 608.0 820.0C613.0 820.3 615.3 822.7 620.0 826.0C624.7 829.3 630.7 835.3 636.0 840.0C641.3 844.7 645.7 849.8 652.0 854.0C658.3 858.2 667.7 864.7 674.0 865.0C680.3 865.3 685.7 859.3 690.0 856.0C694.3 852.7 696.3 850.7 700.0 845.0C703.7 839.3 708.0 831.2 712.0 822.0C716.0 812.8 720.0 799.7 724.0 790.0C728.0 780.3 731.7 770.7 736.0 764.0C740.3 757.3 745.3 750.0 750.0 750.0C754.7 750.0 759.7 757.3 764.0 764.0C768.3 770.7 772.0 781.3 776.0 790.0C780.0 798.7 784.0 808.7 788.0 816.0C792.0 823.3 795.3 829.3 800.0 834.0C804.7 838.7 810.7 840.3 816.0 844.0C821.3 847.7 826.7 852.7 832.0 856.0C837.3 859.3 843.0 862.7 848.0 864.0C853.0 865.3 859.0 868.7 862.0 864.0C865.0 859.3 864.5 842.3 866.0 836.0C867.5 829.7 869.0 824.3 871.0 826.0C873.0 827.7 875.2 844.7 878.0 846.0C880.8 847.3 884.3 838.3 888.0 834.0C891.7 829.7 894.7 826.7 900.0 820.0C905.3 813.3 911.7 803.3 920.0 794.0C928.3 784.7 940.0 774.3 950.0 764.0C960.0 753.7 970.0 741.7 980.0 732.0C990.0 722.3 1000.7 712.3 1010.0 706.0C1019.3 699.7 1027.7 694.0 1036.0 694.0C1044.3 694.0 1052.7 700.0 1060.0 706.0C1067.3 712.0 1074.0 721.0 1080.0 730.0C1086.0 739.0 1091.3 750.0 1096.0 760.0C1100.7 770.0 1103.3 778.3 1108.0 790.0C1112.7 801.7 1120.3 818.3 1124.0 830.0C1127.7 841.7 1127.3 850.0 1130.0 860.0C1132.7 870.0 1135.8 880.0 1140.0 890.0C1144.2 900.0 1150.8 913.3 1155.0 920.0C1159.2 926.7 1160.8 935.0 1165.0 930.0C1169.2 925.0 1175.3 902.2 1180.0 890.0C1184.7 877.8 1189.0 867.0 1193.0 857.0C1197.0 847.0 1201.2 839.5 1204.0 830.0C1206.8 820.5 1207.8 807.2 1210.0 800.0C1212.2 792.8 1214.5 785.8 1217.0 787.0C1219.5 788.2 1222.8 799.8 1225.0 807.0C1227.2 814.2 1228.7 821.7 1230.0 830.0C1231.3 838.3 1231.7 845.8 1233.0 857.0C1234.3 868.2 1235.7 883.7 1238.0 897.0C1240.3 910.3 1244.5 926.0 1247.0 937.0C1249.5 948.0 1251.3 956.3 1253.0 963.0C1254.7 969.7 1254.3 975.8 1257.0 977.0C1259.7 978.2 1265.2 970.0 1269.0 970.0C1272.8 970.0 1277.5 980.3 1280.0 977.0C1282.5 973.7 1283.3 954.5 1284.0 950.0" stroke="#31688E" stroke-width="18" stroke-linecap="round" stroke-linejoin="round" fill="none"/>
<path d="M1284.0 950.0C1284.7 941.7 1286.7 916.7 1288.0 900.0C1289.3 883.3 1290.7 866.7 1292.0 850.0C1293.3 833.3 1294.5 813.3 1296.0 800.0C1297.5 786.7 1299.0 777.7 1301.0 770.0C1303.0 762.3 1306.8 756.7 1308.0 754.0" stroke="#31688E" stroke-width="9" stroke-linecap="round" stroke-linejoin="round" fill="none"/>
<path d="M1308.0 754.0C1309.3 755.8 1313.8 759.0 1316.0 765.0C1318.2 771.0 1319.7 780.8 1321.0 790.0C1322.3 799.2 1323.0 808.3 1324.0 820.0C1325.0 831.7 1325.8 840.0 1327.0 860.0C1328.2 880.0 1329.7 916.7 1331.0 940.0C1332.3 963.3 1333.8 983.3 1335.0 1000.0C1336.2 1016.7 1336.8 1026.7 1338.0 1040.0C1339.2 1053.3 1340.7 1065.0 1342.0 1080.0C1343.3 1095.0 1344.7 1115.0 1346.0 1130.0C1347.3 1145.0 1348.3 1156.7 1350.0 1170.0C1351.7 1183.3 1354.0 1196.7 1356.0 1210.0C1358.0 1223.3 1360.0 1239.3 1362.0 1250.0C1364.0 1260.7 1366.0 1272.0 1368.0 1274.0C1370.0 1276.0 1372.0 1269.3 1374.0 1262.0C1376.0 1254.7 1378.0 1235.0 1380.0 1230.0C1382.0 1225.0 1384.3 1226.2 1386.0 1232.0C1387.7 1237.8 1388.7 1256.3 1390.0 1265.0C1391.3 1273.7 1392.3 1284.5 1394.0 1284.0C1395.7 1283.5 1398.3 1272.7 1400.0 1262.0C1401.7 1251.3 1402.7 1237.0 1404.0 1220.0C1405.3 1203.0 1406.7 1176.7 1408.0 1160.0C1409.3 1143.3 1410.5 1122.5 1412.0 1120.0C1413.5 1117.5 1415.3 1135.7 1417.0 1145.0C1418.7 1154.3 1420.2 1173.5 1422.0 1176.0C1423.8 1178.5 1426.0 1169.3 1428.0 1160.0C1430.0 1150.7 1432.0 1133.3 1434.0 1120.0C1436.0 1106.7 1439.0 1086.7 1440.0 1080.0" stroke="#31688E" stroke-width="18" stroke-linecap="round" stroke-linejoin="round" fill="none"/>
<path d="M1346.0 1150.0C1347.0 1156.7 1350.0 1177.5 1352.0 1190.0C1354.0 1202.5 1356.0 1213.7 1358.0 1225.0C1360.0 1236.3 1362.3 1249.5 1364.0 1258.0C1365.7 1266.5 1366.3 1275.3 1368.0 1276.0C1369.7 1276.7 1373.0 1264.3 1374.0 1262.0" stroke="#31688E" stroke-width="22" stroke-linecap="round" stroke-linejoin="round" fill="none"/>
<path d="M1386.0 1240.0C1386.7 1244.7 1388.7 1260.3 1390.0 1268.0C1391.3 1275.7 1392.3 1287.0 1394.0 1286.0C1395.7 1285.0 1399.0 1266.0 1400.0 1262.0" stroke="#31688E" stroke-width="20" stroke-linecap="round" stroke-linejoin="round" fill="none"/>
<path d="M1453.0 1020.0C1453.3 1026.7 1454.2 1046.7 1455.0 1060.0C1455.8 1073.3 1456.8 1086.3 1458.0 1100.0C1459.2 1113.7 1460.0 1138.7 1462.0 1142.0C1464.0 1145.3 1467.0 1133.7 1470.0 1120.0C1473.0 1106.3 1476.8 1089.0 1480.0 1060.0C1483.2 1031.0 1485.7 979.2 1489.0 946.0C1492.3 912.8 1496.5 889.5 1500.0 861.0C1503.5 832.5 1506.3 803.5 1510.0 775.0C1513.7 746.5 1518.0 713.2 1522.0 690.0C1526.0 666.8 1529.5 659.2 1534.0 636.0C1538.5 612.8 1545.3 572.0 1549.0 551.0C1552.7 530.0 1553.8 523.0 1556.0 510.0C1558.2 497.0 1559.7 474.7 1562.0 473.0C1564.3 471.3 1568.7 495.5 1570.0 500.0" stroke="#31688E" stroke-width="15" stroke-linecap="round" stroke-linejoin="round" fill="none"/>
<path d="M1551.0 510.0C1551.8 505.8 1554.2 491.2 1556.0 485.0C1557.8 478.8 1560.0 473.8 1562.0 473.0C1564.0 472.2 1566.2 474.2 1568.0 480.0C1569.8 485.8 1572.2 503.3 1573.0 508.0" stroke="#31688E" stroke-width="18" stroke-linecap="round" stroke-linejoin="round" fill="none"/>
<circle cx="1570.0" cy="500.0" r="7.6" fill="#31688E" fill-opacity="0.8" stroke="#31688E" stroke-opacity="0.8" stroke-width="1.1"/>
<circle cx="1571.1" cy="510.1" r="7.6" fill="#31688E" fill-opacity="0.8" stroke="#31688E" stroke-opacity="0.8" stroke-width="1.1"/>
<circle cx="1572.2" cy="520.3" r="7.6" fill="#31688E" fill-opacity="0.8" stroke="#31688E" stroke-opacity="0.8" stroke-width="1.1"/>
<circle cx="1573.3" cy="530.4" r="7.6" fill="#31688E" fill-opacity="0.8" stroke="#31688E" stroke-opacity="0.8" stroke-width="1.1"/>
<circle cx="1574.4" cy="540.6" r="7.6" fill="#31688E" fill-opacity="0.8" stroke="#31688E" stroke-opacity="0.8" stroke-width="1.1"/>
<circle cx="1575.5" cy="550.7" r="7.6" fill="#31688E" fill-opacity="0.8" stroke="#31688E" stroke-opacity="0.8" stroke-width="1.1"/>
<circle cx="1576.8" cy="561.3" r="7.6" fill="#31688E" fill-opacity="0.8" stroke="#31688E" stroke-opacity="0.8" stroke-width="1.1"/>
<circle cx="1578.2" cy="571.9" r="7.6" fill="#31688E" fill-opacity="0.8" stroke="#31688E" stroke-opacity="0.8" stroke-width="1.1"/>
<circle cx="1579.5" cy="582.4" r="7.6" fill="#31688E" fill-opacity="0.8" stroke="#31688E" stroke-opacity="0.8" stroke-width="1.1"/>
<circle cx="1580.8" cy="593.0" r="7.6" fill="#31688E" fill-opacity="0.8" stroke="#31688E" stroke-opacity="0.8" stroke-width="1.1"/>
<circle cx="1581.3" cy="603.8" r="7.6" fill="#31688E" fill-opacity="0.8" stroke="#31688E" stroke-opacity="0.8" stroke-width="1.1"/>
<circle cx="1581.9" cy="614.5" r="7.6" fill="#31688E" fill-opacity="0.8" stroke="#31688E" stroke-opacity="0.8" stroke-width="1.1"/>
<circle cx="1582.5" cy="625.2" r="7.6" fill="#31688E" fill-opacity="0.8" stroke="#31688E" stroke-opacity="0.8" stroke-width="1.1"/>
<circle cx="1583.0" cy="636.0" r="7.6" fill="#31688E" fill-opacity="0.8" stroke="#31688E" stroke-opacity="0.8" stroke-width="1.1"/>
<circle cx="1583.0" cy="647.0" r="7.6" fill="#31688E" fill-opacity="0.8" stroke="#31688E" stroke-opacity="0.8" stroke-width="1.1"/>
<circle cx="1583.0" cy="658.0" r="7.6" fill="#31688E" fill-opacity="0.8" stroke="#31688E" stroke-opacity="0.8" stroke-width="1.1"/>
<circle cx="1583.0" cy="669.0" r="7.6" fill="#31688E" fill-opacity="0.8" stroke="#31688E" stroke-opacity="0.8" stroke-width="1.1"/>
<circle cx="1583.0" cy="680.0" r="7.6" fill="#31688E" fill-opacity="0.8" stroke="#31688E" stroke-opacity="0.8" stroke-width="1.1"/>
<path d="M1606.0 1000.0C1607.0 1005.0 1610.0 1021.7 1612.0 1030.0C1614.0 1038.3 1617.0 1046.7 1618.0 1050.0" stroke="#31688E" stroke-width="16" stroke-linecap="round" stroke-linejoin="round" fill="none"/>
<path d="M1646.7 771.0C1647.0 774.2 1647.8 785.0 1648.8 790.0C1649.8 795.0 1652.3 799.2 1653.0 801.0" stroke="#31688E" stroke-width="18" stroke-linecap="round" stroke-linejoin="round" fill="none"/>
<path d="M1640.0 822.0C1639.7 824.8 1638.7 833.3 1638.0 839.0C1637.3 844.7 1636.3 853.2 1636.0 856.0" stroke="#31688E" stroke-width="16" stroke-linecap="round" stroke-linejoin="round" fill="none"/>
<circle cx="1284.0" cy="893.0" r="7.6" fill="#440154" fill-opacity="0.8" stroke="#440154" stroke-opacity="0.8" stroke-width="1.1"/>
<circle cx="1285.0" cy="881.5" r="7.6" fill="#440154" fill-opacity="0.8" stroke="#440154" stroke-opacity="0.8" stroke-width="1.1"/>
<circle cx="1286.0" cy="870.0" r="7.6" fill="#440154" fill-opacity="0.8" stroke="#440154" stroke-opacity="0.8" stroke-width="1.1"/>
<circle cx="1286.5" cy="860.8" r="7.6" fill="#440154" fill-opacity="0.8" stroke="#440154" stroke-opacity="0.8" stroke-width="1.1"/>
<circle cx="1287.0" cy="851.5" r="7.6" fill="#440154" fill-opacity="0.8" stroke="#440154" stroke-opacity="0.8" stroke-width="1.1"/>
<circle cx="1287.5" cy="842.2" r="7.6" fill="#440154" fill-opacity="0.8" stroke="#440154" stroke-opacity="0.8" stroke-width="1.1"/>
<circle cx="1288.0" cy="833.0" r="7.6" fill="#440154" fill-opacity="0.8" stroke="#440154" stroke-opacity="0.8" stroke-width="1.1"/>
<circle cx="1288.3" cy="823.7" r="7.6" fill="#440154" fill-opacity="0.8" stroke="#440154" stroke-opacity="0.8" stroke-width="1.1"/>
<circle cx="1288.7" cy="814.3" r="7.6" fill="#440154" fill-opacity="0.8" stroke="#440154" stroke-opacity="0.8" stroke-width="1.1"/>
<circle cx="1289.0" cy="805.0" r="7.6" fill="#440154" fill-opacity="0.8" stroke="#440154" stroke-opacity="0.8" stroke-width="1.1"/>
<circle cx="1289.3" cy="795.7" r="7.6" fill="#440154" fill-opacity="0.8" stroke="#440154" stroke-opacity="0.8" stroke-width="1.1"/>
<circle cx="1289.7" cy="786.3" r="7.6" fill="#440154" fill-opacity="0.8" stroke="#440154" stroke-opacity="0.8" stroke-width="1.1"/>
<circle cx="1290.0" cy="777.0" r="7.6" fill="#440154" fill-opacity="0.8" stroke="#440154" stroke-opacity="0.8" stroke-width="1.1"/>
<circle cx="1290.6" cy="767.0" r="7.6" fill="#440154" fill-opacity="0.8" stroke="#440154" stroke-opacity="0.8" stroke-width="1.1"/>
<circle cx="1291.2" cy="757.0" r="7.6" fill="#440154" fill-opacity="0.8" stroke="#440154" stroke-opacity="0.8" stroke-width="1.1"/>
<circle cx="1291.8" cy="747.0" r="7.6" fill="#440154" fill-opacity="0.8" stroke="#440154" stroke-opacity="0.8" stroke-width="1.1"/>
<circle cx="1292.4" cy="737.0" r="7.6" fill="#440154" fill-opacity="0.8" stroke="#440154" stroke-opacity="0.8" stroke-width="1.1"/>
<circle cx="1293.0" cy="727.0" r="7.6" fill="#440154" fill-opacity="0.8" stroke="#440154" stroke-opacity="0.8" stroke-width="1.1"/>
<circle cx="258.0" cy="753.3" r="7.6" fill="#440154" fill-opacity="0.8" stroke="#440154" stroke-opacity="0.8" stroke-width="1.1"/>
<circle cx="258.8" cy="755.1" r="7.6" fill="#31688E" fill-opacity="0.8" stroke="#31688E" stroke-opacity="0.8" stroke-width="1.1"/>
<circle cx="259.7" cy="764.8" r="7.6" fill="#440154" fill-opacity="0.8" stroke="#440154" stroke-opacity="0.8" stroke-width="1.1"/>
<circle cx="260.5" cy="752.5" r="7.6" fill="#31688E" fill-opacity="0.8" stroke="#31688E" stroke-opacity="0.8" stroke-width="1.1"/>
<circle cx="261.4" cy="760.8" r="7.6" fill="#440154" fill-opacity="0.8" stroke="#440154" stroke-opacity="0.8" stroke-width="1.1"/>
<circle cx="262.2" cy="762.4" r="7.6" fill="#31688E" fill-opacity="0.8" stroke="#31688E" stroke-opacity="0.8" stroke-width="1.1"/>
<circle cx="263.1" cy="744.0" r="7.6" fill="#440154" fill-opacity="0.8" stroke="#440154" stroke-opacity="0.8" stroke-width="1.1"/>
<circle cx="263.9" cy="767.3" r="7.6" fill="#31688E" fill-opacity="0.8" stroke="#31688E" stroke-opacity="0.8" stroke-width="1.1"/>
<circle cx="264.8" cy="743.3" r="7.6" fill="#440154" fill-opacity="0.8" stroke="#440154" stroke-opacity="0.8" stroke-width="1.1"/>
<circle cx="265.6" cy="764.7" r="7.6" fill="#31688E" fill-opacity="0.8" stroke="#31688E" stroke-opacity="0.8" stroke-width="1.1"/>
<circle cx="266.5" cy="744.4" r="7.6" fill="#440154" fill-opacity="0.8" stroke="#440154" stroke-opacity="0.8" stroke-width="1.1"/>
<circle cx="267.3" cy="753.1" r="7.6" fill="#31688E" fill-opacity="0.8" stroke="#31688E" stroke-opacity="0.8" stroke-width="1.1"/>
<circle cx="268.2" cy="756.9" r="7.6" fill="#440154" fill-opacity="0.8" stroke="#440154" stroke-opacity="0.8" stroke-width="1.1"/>
<circle cx="269.0" cy="778.1" r="7.6" fill="#31688E" fill-opacity="0.8" stroke="#31688E" stroke-opacity="0.8" stroke-width="1.1"/>
<circle cx="269.9" cy="746.3" r="7.6" fill="#440154" fill-opacity="0.8" stroke="#440154" stroke-opacity="0.8" stroke-width="1.1"/>
<circle cx="270.7" cy="757.6" r="7.6" fill="#31688E" fill-opacity="0.8" stroke="#31688E" stroke-opacity="0.8" stroke-width="1.1"/>
<circle cx="271.6" cy="764.0" r="7.6" fill="#440154" fill-opacity="0.8" stroke="#440154" stroke-opacity="0.8" stroke-width="1.1"/>
<circle cx="272.4" cy="782.2" r="7.6" fill="#31688E" fill-opacity="0.8" stroke="#31688E" stroke-opacity="0.8" stroke-width="1.1"/>
<circle cx="273.3" cy="762.2" r="7.6" fill="#440154" fill-opacity="0.8" stroke="#440154" stroke-opacity="0.8" stroke-width="1.1"/>
<circle cx="274.1" cy="763.5" r="7.6" fill="#31688E" fill-opacity="0.8" stroke="#31688E" stroke-opacity="0.8" stroke-width="1.1"/>
<circle cx="275.0" cy="776.2" r="7.6" fill="#440154" fill-opacity="0.8" stroke="#440154" stroke-opacity="0.8" stroke-width="1.1"/>
<circle cx="275.8" cy="751.6" r="7.6" fill="#31688E" fill-opacity="0.8" stroke="#31688E" stroke-opacity="0.8" stroke-width="1.1"/>
<circle cx="276.7" cy="772.0" r="7.6" fill="#440154" fill-opacity="0.8" stroke="#440154" stroke-opacity="0.8" stroke-width="1.1"/>
<circle cx="277.5" cy="759.8" r="7.6" fill="#31688E" fill-opacity="0.8" stroke="#31688E" stroke-opacity="0.8" stroke-width="1.1"/>
<circle cx="278.4" cy="747.0" r="7.6" fill="#440154" fill-opacity="0.8" stroke="#440154" stroke-opacity="0.8" stroke-width="1.1"/>
<circle cx="279.2" cy="754.0" r="7.6" fill="#31688E" fill-opacity="0.8" stroke="#31688E" stroke-opacity="0.8" stroke-width="1.1"/>
<circle cx="280.1" cy="752.8" r="7.6" fill="#440154" fill-opacity="0.8" stroke="#440154" stroke-opacity="0.8" stroke-width="1.1"/>
<circle cx="280.9" cy="777.7" r="7.6" fill="#31688E" fill-opacity="0.8" stroke="#31688E" stroke-opacity="0.8" stroke-width="1.1"/>
<circle cx="281.8" cy="748.3" r="7.6" fill="#440154" fill-opacity="0.8" stroke="#440154" stroke-opacity="0.8" stroke-width="1.1"/>
<circle cx="282.6" cy="769.8" r="7.6" fill="#31688E" fill-opacity="0.8" stroke="#31688E" stroke-opacity="0.8" stroke-width="1.1"/>
<circle cx="283.5" cy="764.4" r="7.6" fill="#440154" fill-opacity="0.8" stroke="#440154" stroke-opacity="0.8" stroke-width="1.1"/>
<circle cx="284.3" cy="762.7" r="7.6" fill="#31688E" fill-opacity="0.8" stroke="#31688E" stroke-opacity="0.8" stroke-width="1.1"/>
<circle cx="285.2" cy="761.2" r="7.6" fill="#440154" fill-opacity="0.8" stroke="#440154" stroke-opacity="0.8" stroke-width="1.1"/>
<circle cx="286.0" cy="752.1" r="7.6" fill="#31688E" fill-opacity="0.8" stroke="#31688E" stroke-opacity="0.8" stroke-width="1.1"/>
<circle cx="286.9" cy="744.1" r="7.6" fill="#440154" fill-opacity="0.8" stroke="#440154" stroke-opacity="0.8" stroke-width="1.1"/>
<circle cx="287.7" cy="757.0" r="7.6" fill="#31688E" fill-opacity="0.8" stroke="#31688E" stroke-opacity="0.8" stroke-width="1.1"/>
<circle cx="288.6" cy="765.8" r="7.6" fill="#440154" fill-opacity="0.8" stroke="#440154" stroke-opacity="0.8" stroke-width="1.1"/>
<circle cx="289.4" cy="764.5" r="7.6" fill="#31688E" fill-opacity="0.8" stroke="#31688E" stroke-opacity="0.8" stroke-width="1.1"/>
<circle cx="290.3" cy="753.0" r="7.6" fill="#440154" fill-opacity="0.8" stroke="#440154" stroke-opacity="0.8" stroke-width="1.1"/>
<circle cx="291.1" cy="769.9" r="7.6" fill="#31688E" fill-opacity="0.8" stroke="#31688E" stroke-opacity="0.8" stroke-width="1.1"/>
<circle cx="292.0" cy="757.9" r="7.6" fill="#440154" fill-opacity="0.8" stroke="#440154" stroke-opacity="0.8" stroke-width="1.1"/>
<circle cx="292.8" cy="760.2" r="7.6" fill="#31688E" fill-opacity="0.8" stroke="#31688E" stroke-opacity="0.8" stroke-width="1.1"/>
<circle cx="293.7" cy="769.8" r="7.6" fill="#440154" fill-opacity="0.8" stroke="#440154" stroke-opacity="0.8" stroke-width="1.1"/>
<circle cx="294.5" cy="773.8" r="7.6" fill="#31688E" fill-opacity="0.8" stroke="#31688E" stroke-opacity="0.8" stroke-width="1.1"/>
<circle cx="295.4" cy="750.5" r="7.6" fill="#440154" fill-opacity="0.8" stroke="#440154" stroke-opacity="0.8" stroke-width="1.1"/>
<circle cx="296.2" cy="769.5" r="7.6" fill="#31688E" fill-opacity="0.8" stroke="#31688E" stroke-opacity="0.8" stroke-width="1.1"/>
<circle cx="297.1" cy="760.4" r="7.6" fill="#440154" fill-opacity="0.8" stroke="#440154" stroke-opacity="0.8" stroke-width="1.1"/>
<circle cx="297.9" cy="779.8" r="7.6" fill="#31688E" fill-opacity="0.8" stroke="#31688E" stroke-opacity="0.8" stroke-width="1.1"/>
<circle cx="298.8" cy="767.5" r="7.6" fill="#440154" fill-opacity="0.8" stroke="#440154" stroke-opacity="0.8" stroke-width="1.1"/>
<circle cx="299.6" cy="759.8" r="7.6" fill="#31688E" fill-opacity="0.8" stroke="#31688E" stroke-opacity="0.8" stroke-width="1.1"/>
<circle cx="300.5" cy="776.3" r="7.6" fill="#440154" fill-opacity="0.8" stroke="#440154" stroke-opacity="0.8" stroke-width="1.1"/>
<circle cx="301.3" cy="754.0" r="7.6" fill="#31688E" fill-opacity="0.8" stroke="#31688E" stroke-opacity="0.8" stroke-width="1.1"/>
<circle cx="302.2" cy="756.6" r="7.6" fill="#440154" fill-opacity="0.8" stroke="#440154" stroke-opacity="0.8" stroke-width="1.1"/>
<circle cx="303.0" cy="775.7" r="7.6" fill="#31688E" fill-opacity="0.8" stroke="#31688E" stroke-opacity="0.8" stroke-width="1.1"/>
<circle cx="303.9" cy="747.3" r="7.6" fill="#440154" fill-opacity="0.8" stroke="#440154" stroke-opacity="0.8" stroke-width="1.1"/>
<circle cx="304.7" cy="766.6" r="7.6" fill="#31688E" fill-opacity="0.8" stroke="#31688E" stroke-opacity="0.8" stroke-width="1.1"/>
<circle cx="305.6" cy="743.4" r="7.6" fill="#440154" fill-opacity="0.8" stroke="#440154" stroke-opacity="0.8" stroke-width="1.1"/>
<circle cx="306.4" cy="772.7" r="7.6" fill="#31688E" fill-opacity="0.8" stroke="#31688E" stroke-opacity="0.8" stroke-width="1.1"/>
<circle cx="307.3" cy="768.8" r="7.6" fill="#440154" fill-opacity="0.8" stroke="#440154" stroke-opacity="0.8" stroke-width="1.1"/>
<circle cx="308.1" cy="769.5" r="7.6" fill="#31688E" fill-opacity="0.8" stroke="#31688E" stroke-opacity="0.8" stroke-width="1.1"/>
<circle cx="309.0" cy="772.6" r="7.6" fill="#440154" fill-opacity="0.8" stroke="#440154" stroke-opacity="0.8" stroke-width="1.1"/>
<circle cx="309.8" cy="760.7" r="7.6" fill="#31688E" fill-opacity="0.8" stroke="#31688E" stroke-opacity="0.8" stroke-width="1.1"/>
<circle cx="310.7" cy="766.3" r="7.6" fill="#440154" fill-opacity="0.8" stroke="#440154" stroke-opacity="0.8" stroke-width="1.1"/>
<circle cx="311.5" cy="770.2" r="7.6" fill="#31688E" fill-opacity="0.8" stroke="#31688E" stroke-opacity="0.8" stroke-width="1.1"/>
<circle cx="312.4" cy="762.3" r="7.6" fill="#440154" fill-opacity="0.8" stroke="#440154" stroke-opacity="0.8" stroke-width="1.1"/>
<circle cx="313.2" cy="765.5" r="7.6" fill="#31688E" fill-opacity="0.8" stroke="#31688E" stroke-opacity="0.8" stroke-width="1.1"/>
<circle cx="314.1" cy="771.4" r="7.6" fill="#440154" fill-opacity="0.8" stroke="#440154" stroke-opacity="0.8" stroke-width="1.1"/>
<circle cx="314.9" cy="782.1" r="7.6" fill="#31688E" fill-opacity="0.8" stroke="#31688E" stroke-opacity="0.8" stroke-width="1.1"/>
<circle cx="315.8" cy="758.6" r="7.6" fill="#440154" fill-opacity="0.8" stroke="#440154" stroke-opacity="0.8" stroke-width="1.1"/>
<circle cx="316.6" cy="772.6" r="7.6" fill="#31688E" fill-opacity="0.8" stroke="#31688E" stroke-opacity="0.8" stroke-width="1.1"/>
<circle cx="317.5" cy="744.1" r="7.6" fill="#440154" fill-opacity="0.8" stroke="#440154" stroke-opacity="0.8" stroke-width="1.1"/>
<circle cx="318.3" cy="773.9" r="7.6" fill="#31688E" fill-opacity="0.8" stroke="#31688E" stroke-opacity="0.8" stroke-width="1.1"/>
<circle cx="319.2" cy="764.6" r="7.6" fill="#440154" fill-opacity="0.8" stroke="#440154" stroke-opacity="0.8" stroke-width="1.1"/>
<circle cx="320.0" cy="783.8" r="7.6" fill="#31688E" fill-opacity="0.8" stroke="#31688E" stroke-opacity="0.8" stroke-width="1.1"/>
<circle cx="320.9" cy="770.8" r="7.6" fill="#440154" fill-opacity="0.8" stroke="#440154" stroke-opacity="0.8" stroke-width="1.1"/>
<circle cx="321.7" cy="759.7" r="7.6" fill="#31688E" fill-opacity="0.8" stroke="#31688E" stroke-opacity="0.8" stroke-width="1.1"/>
<circle cx="322.6" cy="755.5" r="7.6" fill="#440154" fill-opacity="0.8" stroke="#440154" stroke-opacity="0.8" stroke-width="1.1"/>
<circle cx="323.4" cy="772.7" r="7.6" fill="#31688E" fill-opacity="0.8" stroke="#31688E" stroke-opacity="0.8" stroke-width="1.1"/>
<circle cx="324.3" cy="742.8" r="7.6" fill="#440154" fill-opacity="0.8" stroke="#440154" stroke-opacity="0.8" stroke-width="1.1"/>
<circle cx="325.1" cy="765.7" r="7.6" fill="#31688E" fill-opacity="0.8" stroke="#31688E" stroke-opacity="0.8" stroke-width="1.1"/>
<circle cx="326.0" cy="747.9" r="7.6" fill="#440154" fill-opacity="0.8" stroke="#440154" stroke-opacity="0.8" stroke-width="1.1"/>
<circle cx="326.8" cy="754.0" r="7.6" fill="#31688E" fill-opacity="0.8" stroke="#31688E" stroke-opacity="0.8" stroke-width="1.1"/>
<circle cx="327.7" cy="744.1" r="7.6" fill="#440154" fill-opacity="0.8" stroke="#440154" stroke-opacity="0.8" stroke-width="1.1"/>
<circle cx="328.5" cy="776.1" r="7.6" fill="#31688E" fill-opacity="0.8" stroke="#31688E" stroke-opacity="0.8" stroke-width="1.1"/>
<circle cx="329.4" cy="746.5" r="7.6" fill="#440154" fill-opacity="0.8" stroke="#440154" stroke-opacity="0.8" stroke-width="1.1"/>
<circle cx="330.2" cy="758.4" r="7.6" fill="#31688E" fill-opacity="0.8" stroke="#31688E" stroke-opacity="0.8" stroke-width="1.1"/>
<circle cx="331.1" cy="755.7" r="7.6" fill="#440154" fill-opacity="0.8" stroke="#440154" stroke-opacity="0.8" stroke-width="1.1"/>
<circle cx="331.9" cy="779.6" r="7.6" fill="#31688E" fill-opacity="0.8" stroke="#31688E" stroke-opacity="0.8" stroke-width="1.1"/>
<circle cx="332.8" cy="744.8" r="7.6" fill="#440154" fill-opacity="0.8" stroke="#440154" stroke-opacity="0.8" stroke-width="1.1"/>
<circle cx="333.6" cy="765.3" r="7.6" fill="#31688E" fill-opacity="0.8" stroke="#31688E" stroke-opacity="0.8" stroke-width="1.1"/>
<circle cx="334.5" cy="761.2" r="7.6" fill="#440154" fill-opacity="0.8" stroke="#440154" stroke-opacity="0.8" stroke-width="1.1"/>
<circle cx="335.3" cy="780.0" r="7.6" fill="#31688E" fill-opacity="0.8" stroke="#31688E" stroke-opacity="0.8" stroke-width="1.1"/>
<circle cx="336.2" cy="770.7" r="7.6" fill="#440154" fill-opacity="0.8" stroke="#440154" stroke-opacity="0.8" stroke-width="1.1"/>
<circle cx="337.0" cy="779.4" r="7.6" fill="#31688E" fill-opacity="0.8" stroke="#31688E" stroke-opacity="0.8" stroke-width="1.1"/>
<circle cx="337.9" cy="751.7" r="7.6" fill="#440154" fill-opacity="0.8" stroke="#440154" stroke-opacity="0.8" stroke-width="1.1"/>
<circle cx="338.7" cy="764.1" r="7.6" fill="#31688E" fill-opacity="0.8" stroke="#31688E" stroke-opacity="0.8" stroke-width="1.1"/>
<circle cx="339.6" cy="754.6" r="7.6" fill="#440154" fill-opacity="0.8" stroke="#440154" stroke-opacity="0.8" stroke-width="1.1"/>
<circle cx="340.4" cy="780.1" r="7.6" fill="#31688E" fill-opacity="0.8" stroke="#31688E" stroke-opacity="0.8" stroke-width="1.1"/>
<circle cx="341.3" cy="775.5" r="7.6" fill="#440154" fill-opacity="0.8" stroke="#440154" stroke-opacity="0.8" stroke-width="1.1"/>
<circle cx="342.1" cy="755.1" r="7.6" fill="#31688E" fill-opacity="0.8" stroke="#31688E" stroke-opacity="0.8" stroke-width="1.1"/>
<circle cx="267.1" cy="712.0" r="7.6" fill="#440154" fill-opacity="0.8" stroke="#440154" stroke-opacity="0.8" stroke-width="1.1"/>
<circle cx="310.0" cy="724.0" r="7.6" fill="#440154" fill-opacity="0.8" stroke="#440154" stroke-opacity="0.8" stroke-width="1.1"/>
<path d="M207.0 1207.0C210.8 1206.6 221.7 1205.2 230.0 1204.7C238.3 1204.2 248.2 1204.3 257.0 1204.0C265.8 1203.7 274.2 1203.4 283.0 1202.7C291.8 1202.0 301.0 1200.2 310.0 1200.0C319.0 1199.8 328.2 1200.6 337.0 1201.3C345.8 1202.0 354.2 1202.1 363.0 1204.0C371.8 1205.9 381.0 1210.0 390.0 1212.7C399.0 1215.4 409.2 1218.8 417.0 1220.3C424.8 1221.8 429.8 1221.6 437.0 1221.6C444.2 1221.6 449.5 1221.8 460.0 1220.4C470.5 1219.0 486.7 1215.8 500.0 1213.0C513.3 1210.2 526.7 1206.4 540.0 1203.6C553.3 1200.8 568.0 1197.9 580.0 1196.0C592.0 1194.1 598.7 1192.6 612.0 1192.0C625.3 1191.4 647.0 1193.2 660.0 1192.4C673.0 1191.6 680.0 1189.9 690.0 1187.0C700.0 1184.1 710.0 1178.8 720.0 1175.0C730.0 1171.2 741.7 1165.9 750.0 1164.4C758.3 1162.9 761.7 1165.2 770.0 1166.0C778.3 1166.8 788.3 1168.8 800.0 1169.0C811.7 1169.2 830.0 1167.8 840.0 1167.0C850.0 1166.2 855.3 1165.8 860.0 1164.0C864.7 1162.2 863.0 1158.0 868.0 1156.0C873.0 1154.0 879.7 1155.0 890.0 1152.0C900.3 1149.0 916.7 1143.7 930.0 1138.0C943.3 1132.3 956.7 1124.2 970.0 1118.0C983.3 1111.8 996.7 1106.0 1010.0 1101.0C1023.3 1096.0 1038.3 1090.7 1050.0 1088.0C1061.7 1085.3 1070.0 1084.8 1080.0 1085.0C1090.0 1085.2 1100.0 1086.7 1110.0 1089.0C1120.0 1091.3 1131.7 1096.2 1140.0 1099.0C1148.3 1101.8 1153.3 1109.2 1160.0 1106.0C1166.7 1102.8 1173.3 1087.2 1180.0 1080.0C1186.7 1072.8 1194.0 1068.7 1200.0 1063.0C1206.0 1057.3 1211.0 1047.8 1216.0 1046.0C1221.0 1044.2 1225.3 1047.3 1230.0 1052.0C1234.7 1056.7 1239.7 1067.5 1244.0 1074.0C1248.3 1080.5 1251.7 1089.5 1256.0 1091.0C1260.3 1092.5 1266.3 1085.5 1270.0 1083.0C1273.7 1080.5 1276.0 1081.5 1278.0 1076.0C1280.0 1070.5 1280.0 1059.5 1282.0 1050.0C1284.0 1040.5 1285.8 1026.8 1290.0 1019.0C1294.2 1011.2 1304.2 1005.7 1307.0 1003.0" stroke="#35B779" stroke-width="17" stroke-linecap="round" stroke-linejoin="round" fill="none"/>
<path d="M240.0 1196.0C244.2 1195.3 256.7 1192.7 265.0 1192.0C273.3 1191.3 282.5 1193.0 290.0 1192.0C297.5 1191.0 302.5 1186.3 310.0 1186.0C317.5 1185.7 327.5 1188.5 335.0 1190.0C342.5 1191.5 349.2 1192.5 355.0 1195.0C360.8 1197.5 367.5 1203.3 370.0 1205.0" stroke="#35B779" stroke-width="16" stroke-linecap="round" stroke-linejoin="round" fill="none"/>
<circle cx="1192.0" cy="1052.0" r="7.6" fill="#35B779" fill-opacity="0.8" stroke="#35B779" stroke-opacity="0.8" stroke-width="1.1"/>
<circle cx="1201.0" cy="1042.0" r="7.6" fill="#35B779" fill-opacity="0.8" stroke="#35B779" stroke-opacity="0.8" stroke-width="1.1"/>
<circle cx="1216.0" cy="1032.0" r="7.6" fill="#35B779" fill-opacity="0.8" stroke="#35B779" stroke-opacity="0.8" stroke-width="1.1"/>
<circle cx="1236.0" cy="1048.0" r="7.6" fill="#35B779" fill-opacity="0.8" stroke="#35B779" stroke-opacity="0.8" stroke-width="1.1"/>
<circle cx="266.7" cy="1168.7" r="7.6" fill="#35B779" fill-opacity="0.8" stroke="#35B779" stroke-opacity="0.8" stroke-width="1.1"/>
<circle cx="308.0" cy="1176.0" r="7.6" fill="#35B779" fill-opacity="0.8" stroke="#35B779" stroke-opacity="0.8" stroke-width="1.1"/>
<circle cx="337.3" cy="1178.7" r="7.6" fill="#35B779" fill-opacity="0.8" stroke="#35B779" stroke-opacity="0.8" stroke-width="1.1"/>
<circle cx="349.3" cy="1181.3" r="7.6" fill="#35B779" fill-opacity="0.8" stroke="#35B779" stroke-opacity="0.8" stroke-width="1.1"/>
<circle cx="288.7" cy="1186.7" r="7.6" fill="#35B779" fill-opacity="0.8" stroke="#35B779" stroke-opacity="0.8" stroke-width="1.1"/>
<circle cx="266.0" cy="1185.3" r="7.6" fill="#35B779" fill-opacity="0.8" stroke="#35B779" stroke-opacity="0.8" stroke-width="1.1"/>
<circle cx="359.3" cy="1189.3" r="7.6" fill="#35B779" fill-opacity="0.8" stroke="#35B779" stroke-opacity="0.8" stroke-width="1.1"/>
<circle cx="383.3" cy="1204.0" r="7.6" fill="#35B779" fill-opacity="0.8" stroke="#35B779" stroke-opacity="0.8" stroke-width="1.1"/>
<path d="M1454.0 985.0C1454.7 992.5 1456.7 1015.8 1458.0 1030.0C1459.3 1044.2 1460.5 1059.0 1462.0 1070.0C1463.5 1081.0 1465.3 1095.2 1467.0 1096.0C1468.7 1096.8 1470.5 1084.3 1472.0 1075.0C1473.5 1065.7 1474.7 1052.5 1476.0 1040.0C1477.3 1027.5 1479.3 1006.7 1480.0 1000.0" stroke="#440154" stroke-width="14" stroke-linecap="round" stroke-linejoin="round" fill="none"/>
<path d="M1458.0 990.0C1458.8 996.7 1461.3 1018.0 1463.0 1030.0C1464.7 1042.0 1466.5 1053.3 1468.0 1062.0C1469.5 1070.7 1470.5 1084.0 1472.0 1082.0C1473.5 1080.0 1475.3 1063.7 1477.0 1050.0C1478.7 1036.3 1480.3 1017.3 1482.0 1000.0C1483.7 982.7 1486.2 955.0 1487.0 946.0" stroke="#35B779" stroke-width="12" stroke-linecap="round" stroke-linejoin="round" fill="none"/>
<path d="M1307.0 1003.0C1308.5 1005.0 1313.8 1009.7 1316.0 1015.0C1318.2 1020.3 1318.8 1026.8 1320.0 1035.0C1321.2 1043.2 1321.5 1054.8 1323.0 1064.0C1324.5 1073.2 1327.2 1082.8 1329.0 1090.0C1330.8 1097.2 1331.8 1097.2 1334.0 1107.0C1336.2 1116.8 1340.0 1138.5 1342.0 1149.0C1344.0 1159.5 1345.3 1166.5 1346.0 1170.0" stroke="#35B779" stroke-width="17" stroke-linecap="round" stroke-linejoin="round" fill="none"/>
<path d="M1346.0 1170.0C1347.0 1174.2 1349.7 1186.3 1352.0 1195.0C1354.3 1203.7 1357.5 1213.2 1360.0 1222.0C1362.5 1230.8 1364.8 1241.3 1367.0 1248.0C1369.2 1254.7 1371.3 1263.3 1373.0 1262.0C1374.7 1260.7 1375.8 1249.5 1377.0 1240.0C1378.2 1230.5 1378.8 1211.7 1380.0 1205.0C1381.2 1198.3 1382.7 1196.7 1384.0 1200.0C1385.3 1203.3 1386.5 1215.3 1388.0 1225.0C1389.5 1234.7 1391.3 1250.2 1393.0 1258.0C1394.7 1265.8 1396.5 1275.0 1398.0 1272.0C1399.5 1269.0 1401.3 1245.3 1402.0 1240.0" stroke="#35B779" stroke-width="10" stroke-linecap="round" stroke-linejoin="round" fill="none"/>
<path d="M1376.0 1215.0C1376.7 1212.0 1378.5 1197.8 1380.0 1197.0C1381.5 1196.2 1384.2 1207.8 1385.0 1210.0" stroke="#35B779" stroke-width="13" stroke-linecap="round" stroke-linejoin="round" fill="none"/>
<path d="M1410.0 1112.0C1411.0 1115.3 1413.7 1125.7 1416.0 1132.0C1418.3 1138.3 1421.7 1152.0 1424.0 1150.0C1426.3 1148.0 1429.0 1125.0 1430.0 1120.0" stroke="#35B779" stroke-width="6" stroke-linecap="round" stroke-linejoin="round" fill="none"/>
<path d="M1460.0 1000.0C1461.0 1008.3 1464.3 1036.7 1466.0 1050.0C1467.7 1063.3 1468.3 1081.7 1470.0 1080.0C1471.7 1078.3 1473.2 1062.3 1476.0 1040.0C1478.8 1017.7 1483.4 975.9 1487.0 946.0C1490.6 916.1 1493.3 889.2 1497.6 860.7C1501.8 832.2 1506.8 803.2 1512.5 775.3C1518.2 747.3 1525.9 716.2 1532.0 693.0C1538.1 669.8 1545.0 651.5 1549.0 636.0C1553.0 620.5 1553.8 611.7 1556.0 600.0C1558.2 588.3 1559.7 567.7 1562.0 566.0C1564.3 564.3 1568.7 586.0 1570.0 590.0" stroke="#35B779" stroke-width="15" stroke-linecap="round" stroke-linejoin="round" fill="none"/>
<path d="M1549.0 610.0C1550.0 605.3 1552.8 589.2 1555.0 582.0C1557.2 574.8 1559.7 567.8 1562.0 567.0C1564.3 566.2 1566.8 570.2 1569.0 577.0C1571.2 583.8 1574.0 602.8 1575.0 608.0" stroke="#35B779" stroke-width="18" stroke-linecap="round" stroke-linejoin="round" fill="none"/>
<circle cx="1570.0" cy="590.0" r="7.6" fill="#35B779" fill-opacity="0.8" stroke="#35B779" stroke-opacity="0.8" stroke-width="1.1"/>
<circle cx="1572.3" cy="604.0" r="7.6" fill="#35B779" fill-opacity="0.8" stroke="#35B779" stroke-opacity="0.8" stroke-width="1.1"/>
<circle cx="1573.3" cy="614.7" r="7.6" fill="#35B779" fill-opacity="0.8" stroke="#35B779" stroke-opacity="0.8" stroke-width="1.1"/>
<circle cx="1574.4" cy="625.4" r="7.6" fill="#35B779" fill-opacity="0.8" stroke="#35B779" stroke-opacity="0.8" stroke-width="1.1"/>
<circle cx="1575.5" cy="636.0" r="7.6" fill="#35B779" fill-opacity="0.8" stroke="#35B779" stroke-opacity="0.8" stroke-width="1.1"/>
<circle cx="1576.5" cy="646.7" r="7.6" fill="#35B779" fill-opacity="0.8" stroke="#35B779" stroke-opacity="0.8" stroke-width="1.1"/>
<circle cx="1577.0" cy="657.3" r="7.6" fill="#35B779" fill-opacity="0.8" stroke="#35B779" stroke-opacity="0.8" stroke-width="1.1"/>
<circle cx="1577.6" cy="667.9" r="7.6" fill="#35B779" fill-opacity="0.8" stroke="#35B779" stroke-opacity="0.8" stroke-width="1.1"/>
<circle cx="1578.2" cy="678.4" r="7.6" fill="#35B779" fill-opacity="0.8" stroke="#35B779" stroke-opacity="0.8" stroke-width="1.1"/>
<circle cx="1578.7" cy="689.0" r="7.6" fill="#35B779" fill-opacity="0.8" stroke="#35B779" stroke-opacity="0.8" stroke-width="1.1"/>
<circle cx="1579.3" cy="699.3" r="7.6" fill="#35B779" fill-opacity="0.8" stroke="#35B779" stroke-opacity="0.8" stroke-width="1.1"/>
<circle cx="1579.9" cy="709.7" r="7.6" fill="#35B779" fill-opacity="0.8" stroke="#35B779" stroke-opacity="0.8" stroke-width="1.1"/>
<circle cx="1580.5" cy="720.0" r="7.6" fill="#35B779" fill-opacity="0.8" stroke="#35B779" stroke-opacity="0.8" stroke-width="1.1"/>
<path d="M1591.0 1081.0C1591.8 1076.3 1594.4 1061.2 1595.5 1053.0C1596.6 1044.8 1596.9 1038.0 1597.6 1032.0C1598.3 1026.0 1599.3 1019.5 1599.7 1017.0" stroke="#35B779" stroke-width="15" stroke-linecap="round" stroke-linejoin="round" fill="none"/>
<path d="M1606.0 900.0C1606.7 893.3 1609.0 871.8 1610.0 860.0C1611.0 848.2 1610.8 839.5 1612.0 829.0C1613.2 818.5 1615.8 809.5 1617.0 797.0C1618.2 784.5 1618.3 766.5 1619.0 754.0C1619.7 741.5 1620.0 732.7 1621.0 722.0C1622.0 711.3 1623.2 700.8 1625.0 690.0C1626.8 679.2 1629.5 669.5 1632.0 657.0C1634.5 644.5 1638.0 627.5 1640.0 615.0C1642.0 602.5 1643.3 587.5 1644.0 582.0" stroke="#35B779" stroke-width="18" stroke-linecap="round" stroke-linejoin="round" fill="none"/>
<circle cx="1569.8" cy="135.0" r="7.6" fill="#FDE725" fill-opacity="0.8" stroke="#FDE725" stroke-opacity="0.8" stroke-width="1.1"/>
<circle cx="1570.2" cy="147.0" r="7.6" fill="#FDE725" fill-opacity="0.8" stroke="#FDE725" stroke-opacity="0.8" stroke-width="1.1"/>
<circle cx="1570.9" cy="161.0" r="7.6" fill="#FDE725" fill-opacity="0.8" stroke="#FDE725" stroke-opacity="0.8" stroke-width="1.1"/>
<circle cx="1572.0" cy="178.0" r="7.6" fill="#FDE725" fill-opacity="0.8" stroke="#FDE725" stroke-opacity="0.8" stroke-width="1.1"/>
<circle cx="1572.9" cy="196.5" r="7.6" fill="#FDE725" fill-opacity="0.8" stroke="#FDE725" stroke-opacity="0.8" stroke-width="1.1"/>
<circle cx="1572.9" cy="217.0" r="7.6" fill="#FDE725" fill-opacity="0.8" stroke="#FDE725" stroke-opacity="0.8" stroke-width="1.1"/>
<circle cx="1574.0" cy="241.6" r="7.6" fill="#FDE725" fill-opacity="0.8" stroke="#FDE725" stroke-opacity="0.8" stroke-width="1.1"/>
<circle cx="1574.6" cy="268.0" r="7.6" fill="#FDE725" fill-opacity="0.8" stroke="#FDE725" stroke-opacity="0.8" stroke-width="1.1"/>
<circle cx="1575.7" cy="297.7" r="7.6" fill="#FDE725" fill-opacity="0.8" stroke="#FDE725" stroke-opacity="0.8" stroke-width="1.1"/>
<circle cx="1576.8" cy="328.5" r="7.6" fill="#FDE725" fill-opacity="0.8" stroke="#FDE725" stroke-opacity="0.8" stroke-width="1.1"/>
<circle cx="1576.8" cy="363.7" r="7.6" fill="#FDE725" fill-opacity="0.8" stroke="#FDE725" stroke-opacity="0.8" stroke-width="1.1"/>
<circle cx="1577.9" cy="395.6" r="7.6" fill="#FDE725" fill-opacity="0.8" stroke="#FDE725" stroke-opacity="0.8" stroke-width="1.1"/>
<circle cx="1580.8" cy="435.5" r="7.6" fill="#FDE725" fill-opacity="0.8" stroke="#FDE725" stroke-opacity="0.8" stroke-width="1.1"/>
<circle cx="1583.0" cy="474.0" r="7.6" fill="#FDE725" fill-opacity="0.8" stroke="#FDE725" stroke-opacity="0.8" stroke-width="1.1"/>
<circle cx="1584.0" cy="516.5" r="7.6" fill="#FDE725" fill-opacity="0.8" stroke="#FDE725" stroke-opacity="0.8" stroke-width="1.1"/>
<circle cx="1585.0" cy="559.0" r="7.6" fill="#FDE725" fill-opacity="0.8" stroke="#FDE725" stroke-opacity="0.8" stroke-width="1.1"/>
<circle cx="1586.0" cy="606.0" r="7.6" fill="#FDE725" fill-opacity="0.8" stroke="#FDE725" stroke-opacity="0.8" stroke-width="1.1"/>
<circle cx="1587.2" cy="655.0" r="7.6" fill="#FDE725" fill-opacity="0.8" stroke="#FDE725" stroke-opacity="0.8" stroke-width="1.1"/>
<circle cx="1584.8" cy="821.2" r="7.6" fill="#FDE725" fill-opacity="0.8" stroke="#FDE725" stroke-opacity="0.8" stroke-width="1.1"/>
<circle cx="1585.9" cy="880.9" r="7.6" fill="#FDE725" fill-opacity="0.8" stroke="#FDE725" stroke-opacity="0.8" stroke-width="1.1"/>
<circle cx="1585.9" cy="935.3" r="7.6" fill="#FDE725" fill-opacity="0.8" stroke="#FDE725" stroke-opacity="0.8" stroke-width="1.1"/>
<circle cx="1585.9" cy="997.2" r="7.6" fill="#FDE725" fill-opacity="0.8" stroke="#FDE725" stroke-opacity="0.8" stroke-width="1.1"/>
<circle cx="1600.8" cy="1003.0" r="7.6" fill="#FDE725" fill-opacity="0.8" stroke="#FDE725" stroke-opacity="0.8" stroke-width="1.1"/>
<circle cx="1588.0" cy="1051.0" r="7.6" fill="#FDE725" fill-opacity="0.8" stroke="#FDE725" stroke-opacity="0.8" stroke-width="1.1"/>
<circle cx="1589.0" cy="1096.0" r="7.6" fill="#FDE725" fill-opacity="0.8" stroke="#FDE725" stroke-opacity="0.8" stroke-width="1.1"/>
<circle cx="1591.0" cy="1128.0" r="7.6" fill="#FDE725" fill-opacity="0.8" stroke="#FDE725" stroke-opacity="0.8" stroke-width="1.1"/>
<circle cx="1591.0" cy="1149.0" r="7.6" fill="#FDE725" fill-opacity="0.8" stroke="#FDE725" stroke-opacity="0.8" stroke-width="1.1"/>
<circle cx="1600.8" cy="1001.5" r="7.6" fill="#FDE725" fill-opacity="0.8" stroke="#FDE725" stroke-opacity="0.8" stroke-width="1.1"/>
<circle cx="1600.8" cy="971.6" r="7.6" fill="#FDE725" fill-opacity="0.8" stroke="#FDE725" stroke-opacity="0.8" stroke-width="1.1"/>
<circle cx="1601.9" cy="937.5" r="7.6" fill="#FDE725" fill-opacity="0.8" stroke="#FDE725" stroke-opacity="0.8" stroke-width="1.1"/>
<circle cx="1601.9" cy="901.2" r="7.6" fill="#FDE725" fill-opacity="0.8" stroke="#FDE725" stroke-opacity="0.8" stroke-width="1.1"/>
<circle cx="1602.9" cy="863.9" r="7.6" fill="#FDE725" fill-opacity="0.8" stroke="#FDE725" stroke-opacity="0.8" stroke-width="1.1"/>
<circle cx="1604.0" cy="837.0" r="7.6" fill="#FDE725" fill-opacity="0.8" stroke="#FDE725" stroke-opacity="0.8" stroke-width="1.1"/>
<circle cx="1605.0" cy="826.0" r="7.6" fill="#FDE725" fill-opacity="0.8" stroke="#FDE725" stroke-opacity="0.8" stroke-width="1.1"/>
<circle cx="1605.0" cy="813.0" r="7.6" fill="#FDE725" fill-opacity="0.8" stroke="#FDE725" stroke-opacity="0.8" stroke-width="1.1"/>
<circle cx="1613.6" cy="803.0" r="7.6" fill="#FDE725" fill-opacity="0.8" stroke="#FDE725" stroke-opacity="0.8" stroke-width="1.1"/>
<circle cx="1614.7" cy="772.0" r="7.6" fill="#FDE725" fill-opacity="0.8" stroke="#FDE725" stroke-opacity="0.8" stroke-width="1.1"/>
<circle cx="1615.7" cy="741.0" r="7.6" fill="#FDE725" fill-opacity="0.8" stroke="#FDE725" stroke-opacity="0.8" stroke-width="1.1"/>
<circle cx="1614.7" cy="710.0" r="7.6" fill="#FDE725" fill-opacity="0.8" stroke="#FDE725" stroke-opacity="0.8" stroke-width="1.1"/>
<circle cx="1616.8" cy="679.7" r="7.6" fill="#FDE725" fill-opacity="0.8" stroke="#FDE725" stroke-opacity="0.8" stroke-width="1.1"/>
<circle cx="1617.9" cy="643.5" r="7.6" fill="#FDE725" fill-opacity="0.8" stroke="#FDE725" stroke-opacity="0.8" stroke-width="1.1"/>
<circle cx="1619.0" cy="605.0" r="7.6" fill="#FDE725" fill-opacity="0.8" stroke="#FDE725" stroke-opacity="0.8" stroke-width="1.1"/>
<circle cx="1620.0" cy="575.0" r="7.6" fill="#FDE725" fill-opacity="0.8" stroke="#FDE725" stroke-opacity="0.8" stroke-width="1.1"/>
<circle cx="1620.0" cy="547.5" r="7.6" fill="#FDE725" fill-opacity="0.8" stroke="#FDE725" stroke-opacity="0.8" stroke-width="1.1"/>
<circle cx="1621.0" cy="524.6" r="7.6" fill="#FDE725" fill-opacity="0.8" stroke="#FDE725" stroke-opacity="0.8" stroke-width="1.1"/>
<circle cx="1621.7" cy="504.4" r="7.6" fill="#FDE725" fill-opacity="0.8" stroke="#FDE725" stroke-opacity="0.8" stroke-width="1.1"/>
<circle cx="1623.2" cy="481.0" r="7.6" fill="#FDE725" fill-opacity="0.8" stroke="#FDE725" stroke-opacity="0.8" stroke-width="1.1"/>
<circle cx="1623.2" cy="466.0" r="7.6" fill="#FDE725" fill-opacity="0.8" stroke="#FDE725" stroke-opacity="0.8" stroke-width="1.1"/>
<circle cx="1623.8" cy="448.0" r="7.6" fill="#FDE725" fill-opacity="0.8" stroke="#FDE725" stroke-opacity="0.8" stroke-width="1.1"/>
<circle cx="1624.7" cy="425.0" r="7.6" fill="#FDE725" fill-opacity="0.8" stroke="#FDE725" stroke-opacity="0.8" stroke-width="1.1"/>
<circle cx="1625.3" cy="408.0" r="7.6" fill="#FDE725" fill-opacity="0.8" stroke="#FDE725" stroke-opacity="0.8" stroke-width="1.1"/>
<circle cx="1629.6" cy="386.0" r="7.6" fill="#FDE725" fill-opacity="0.8" stroke="#FDE725" stroke-opacity="0.8" stroke-width="1.1"/>
<circle cx="1625.2" cy="395.6" r="7.6" fill="#FDE725" fill-opacity="0.8" stroke="#FDE725" stroke-opacity="0.8" stroke-width="1.1"/>
<circle cx="1627.4" cy="378.0" r="7.6" fill="#FDE725" fill-opacity="0.8" stroke="#FDE725" stroke-opacity="0.8" stroke-width="1.1"/>
<circle cx="1634.0" cy="371.0" r="7.6" fill="#FDE725" fill-opacity="0.8" stroke="#FDE725" stroke-opacity="0.8" stroke-width="1.1"/>
<circle cx="1637.3" cy="354.0" r="7.6" fill="#FDE725" fill-opacity="0.8" stroke="#FDE725" stroke-opacity="0.8" stroke-width="1.1"/>
<circle cx="1638.4" cy="336.0" r="7.6" fill="#FDE725" fill-opacity="0.8" stroke="#FDE725" stroke-opacity="0.8" stroke-width="1.1"/>
<circle cx="1638.4" cy="327.0" r="7.6" fill="#FDE725" fill-opacity="0.8" stroke="#FDE725" stroke-opacity="0.8" stroke-width="1.1"/>
<circle cx="1643.9" cy="310.0" r="7.6" fill="#FDE725" fill-opacity="0.8" stroke="#FDE725" stroke-opacity="0.8" stroke-width="1.1"/>
<circle cx="1647.2" cy="301.0" r="7.6" fill="#FDE725" fill-opacity="0.8" stroke="#FDE725" stroke-opacity="0.8" stroke-width="1.1"/>
<circle cx="1646.1" cy="290.0" r="7.6" fill="#FDE725" fill-opacity="0.8" stroke="#FDE725" stroke-opacity="0.8" stroke-width="1.1"/>
<circle cx="1645.0" cy="283.0" r="7.6" fill="#FDE725" fill-opacity="0.8" stroke="#FDE725" stroke-opacity="0.8" stroke-width="1.1"/>
<circle cx="1645.0" cy="270.0" r="7.6" fill="#FDE725" fill-opacity="0.8" stroke="#FDE725" stroke-opacity="0.8" stroke-width="1.1"/>
<circle cx="1649.4" cy="323.0" r="7.6" fill="#FDE725" fill-opacity="0.8" stroke="#FDE725" stroke-opacity="0.8" stroke-width="1.1"/>
<circle cx="1651.6" cy="358.0" r="7.6" fill="#FDE725" fill-opacity="0.8" stroke="#FDE725" stroke-opacity="0.8" stroke-width="1.1"/>
<circle cx="1653.8" cy="378.0" r="7.6" fill="#FDE725" fill-opacity="0.8" stroke="#FDE725" stroke-opacity="0.8" stroke-width="1.1"/>
<circle cx="1655.2" cy="410.0" r="7.6" fill="#FDE725" fill-opacity="0.8" stroke="#FDE725" stroke-opacity="0.8" stroke-width="1.1"/>
<circle cx="1655.2" cy="448.0" r="7.6" fill="#FDE725" fill-opacity="0.8" stroke="#FDE725" stroke-opacity="0.8" stroke-width="1.1"/>
<circle cx="1655.8" cy="481.0" r="7.6" fill="#FDE725" fill-opacity="0.8" stroke="#FDE725" stroke-opacity="0.8" stroke-width="1.1"/>
<circle cx="1659.0" cy="572.6" r="7.6" fill="#FDE725" fill-opacity="0.8" stroke="#FDE725" stroke-opacity="0.8" stroke-width="1.1"/>
<circle cx="1664.8" cy="602.0" r="7.6" fill="#FDE725" fill-opacity="0.8" stroke="#FDE725" stroke-opacity="0.8" stroke-width="1.1"/>
<circle cx="1663.7" cy="623.0" r="7.6" fill="#FDE725" fill-opacity="0.8" stroke="#FDE725" stroke-opacity="0.8" stroke-width="1.1"/>
<circle cx="1663.7" cy="685.0" r="7.6" fill="#FDE725" fill-opacity="0.8" stroke="#FDE725" stroke-opacity="0.8" stroke-width="1.1"/>
<circle cx="1659.5" cy="727.0" r="7.6" fill="#FDE725" fill-opacity="0.8" stroke="#FDE725" stroke-opacity="0.8" stroke-width="1.1"/>
<circle cx="1661.6" cy="736.0" r="7.6" fill="#FDE725" fill-opacity="0.8" stroke="#FDE725" stroke-opacity="0.8" stroke-width="1.1"/>
<circle cx="1665.9" cy="788.0" r="7.6" fill="#FDE725" fill-opacity="0.8" stroke="#FDE725" stroke-opacity="0.8" stroke-width="1.1"/>
<circle cx="1668.0" cy="794.5" r="7.6" fill="#FDE725" fill-opacity="0.8" stroke="#FDE725" stroke-opacity="0.8" stroke-width="1.1"/>
<circle cx="1666.9" cy="849.0" r="7.6" fill="#FDE725" fill-opacity="0.8" stroke="#FDE725" stroke-opacity="0.8" stroke-width="1.1"/>
<circle cx="1396.0" cy="1150.0" r="7.6" fill="#FDE725" fill-opacity="0.8" stroke="#FDE725" stroke-opacity="0.8" stroke-width="1.1"/>
<circle cx="1397.0" cy="1175.0" r="7.6" fill="#FDE725" fill-opacity="0.8" stroke="#FDE725" stroke-opacity="0.8" stroke-width="1.1"/>
<circle cx="1398.0" cy="1200.0" r="7.6" fill="#FDE725" fill-opacity="0.8" stroke="#FDE725" stroke-opacity="0.8" stroke-width="1.1"/>
<circle cx="1438.0" cy="900.0" r="7.6" fill="#FDE725" fill-opacity="0.8" stroke="#FDE725" stroke-opacity="0.8" stroke-width="1.1"/>
<circle cx="1438.0" cy="920.0" r="7.6" fill="#FDE725" fill-opacity="0.8" stroke="#FDE725" stroke-opacity="0.8" stroke-width="1.1"/>
<circle cx="1437.0" cy="945.0" r="7.6" fill="#FDE725" fill-opacity="0.8" stroke="#FDE725" stroke-opacity="0.8" stroke-width="1.1"/>
<circle cx="1436.0" cy="965.0" r="7.6" fill="#FDE725" fill-opacity="0.8" stroke="#FDE725" stroke-opacity="0.8" stroke-width="1.1"/>
<circle cx="1434.0" cy="985.0" r="7.6" fill="#FDE725" fill-opacity="0.8" stroke="#FDE725" stroke-opacity="0.8" stroke-width="1.1"/>
<circle cx="1632.0" cy="330.0" r="7.6" fill="#FDE725" fill-opacity="0.8" stroke="#FDE725" stroke-opacity="0.8" stroke-width="1.1"/>
<circle cx="1636.0" cy="345.0" r="7.6" fill="#FDE725" fill-opacity="0.8" stroke="#FDE725" stroke-opacity="0.8" stroke-width="1.1"/>
<circle cx="1630.0" cy="360.0" r="7.6" fill="#FDE725" fill-opacity="0.8" stroke="#FDE725" stroke-opacity="0.8" stroke-width="1.1"/>
<circle cx="1641.0" cy="340.0" r="7.6" fill="#FDE725" fill-opacity="0.8" stroke="#FDE725" stroke-opacity="0.8" stroke-width="1.1"/>
<circle cx="1648.0" cy="335.0" r="7.6" fill="#FDE725" fill-opacity="0.8" stroke="#FDE725" stroke-opacity="0.8" stroke-width="1.1"/>
<circle cx="1650.0" cy="350.0" r="7.6" fill="#FDE725" fill-opacity="0.8" stroke="#FDE725" stroke-opacity="0.8" stroke-width="1.1"/>
<circle cx="1628.0" cy="395.0" r="7.6" fill="#FDE725" fill-opacity="0.8" stroke="#FDE725" stroke-opacity="0.8" stroke-width="1.1"/>
<circle cx="1633.0" cy="412.0" r="7.6" fill="#FDE725" fill-opacity="0.8" stroke="#FDE725" stroke-opacity="0.8" stroke-width="1.1"/>
<circle cx="1640.0" cy="398.0" r="7.6" fill="#FDE725" fill-opacity="0.8" stroke="#FDE725" stroke-opacity="0.8" stroke-width="1.1"/>
<circle cx="1636.0" cy="425.0" r="7.6" fill="#FDE725" fill-opacity="0.8" stroke="#FDE725" stroke-opacity="0.8" stroke-width="1.1"/>
<circle cx="1645.0" cy="312.0" r="7.6" fill="#FDE725" fill-opacity="0.8" stroke="#FDE725" stroke-opacity="0.8" stroke-width="1.1"/>
<circle cx="1642.0" cy="296.0" r="7.6" fill="#FDE725" fill-opacity="0.8" stroke="#FDE725" stroke-opacity="0.8" stroke-width="1.1"/>
<circle cx="1649.0" cy="310.0" r="7.6" fill="#FDE725" fill-opacity="0.8" stroke="#FDE725" stroke-opacity="0.8" stroke-width="1.1"/>
<circle cx="1573.0" cy="455.0" r="7.6" fill="#440154" fill-opacity="0.8" stroke="#440154" stroke-opacity="0.8" stroke-width="1.1"/>
<circle cx="1576.5" cy="487.0" r="7.6" fill="#440154" fill-opacity="0.8" stroke="#440154" stroke-opacity="0.8" stroke-width="1.1"/>
<circle cx="1578.7" cy="529.0" r="7.6" fill="#440154" fill-opacity="0.8" stroke="#440154" stroke-opacity="0.8" stroke-width="1.1"/>
<circle cx="1580.8" cy="572.0" r="7.6" fill="#440154" fill-opacity="0.8" stroke="#440154" stroke-opacity="0.8" stroke-width="1.1"/>
<circle cx="1583.0" cy="615.0" r="7.6" fill="#440154" fill-opacity="0.8" stroke="#440154" stroke-opacity="0.8" stroke-width="1.1"/>
<circle cx="1585.0" cy="657.0" r="7.6" fill="#440154" fill-opacity="0.8" stroke="#440154" stroke-opacity="0.8" stroke-width="1.1"/>
<circle cx="1585.0" cy="689.0" r="7.6" fill="#440154" fill-opacity="0.8" stroke="#440154" stroke-opacity="0.8" stroke-width="1.1"/>
<circle cx="1582.7" cy="721.0" r="7.6" fill="#440154" fill-opacity="0.8" stroke="#440154" stroke-opacity="0.8" stroke-width="1.1"/>
<circle cx="1583.7" cy="761.5" r="7.6" fill="#440154" fill-opacity="0.8" stroke="#440154" stroke-opacity="0.8" stroke-width="1.1"/>
<circle cx="1586.9" cy="964.0" r="7.6" fill="#440154" fill-opacity="0.8" stroke="#440154" stroke-opacity="0.8" stroke-width="1.1"/>
<circle cx="1587.0" cy="1017.0" r="7.6" fill="#440154" fill-opacity="0.8" stroke="#440154" stroke-opacity="0.8" stroke-width="1.1"/>
<circle cx="1588.0" cy="1070.0" r="7.6" fill="#440154" fill-opacity="0.8" stroke="#440154" stroke-opacity="0.8" stroke-width="1.1"/>
<circle cx="1589.0" cy="1111.0" r="7.6" fill="#440154" fill-opacity="0.8" stroke="#440154" stroke-opacity="0.8" stroke-width="1.1"/>
<circle cx="1591.0" cy="1160.0" r="7.6" fill="#440154" fill-opacity="0.8" stroke="#440154" stroke-opacity="0.8" stroke-width="1.1"/>
<circle cx="1602.0" cy="1149.0" r="7.6" fill="#440154" fill-opacity="0.8" stroke="#440154" stroke-opacity="0.8" stroke-width="1.1"/>
<circle cx="1604.0" cy="1102.0" r="7.6" fill="#440154" fill-opacity="0.8" stroke="#440154" stroke-opacity="0.8" stroke-width="1.1"/>
<circle cx="1618.0" cy="1006.0" r="7.6" fill="#440154" fill-opacity="0.8" stroke="#440154" stroke-opacity="0.8" stroke-width="1.1"/>
<circle cx="1618.0" cy="989.0" r="7.6" fill="#440154" fill-opacity="0.8" stroke="#440154" stroke-opacity="0.8" stroke-width="1.1"/>
<circle cx="1618.0" cy="974.0" r="7.6" fill="#440154" fill-opacity="0.8" stroke="#440154" stroke-opacity="0.8" stroke-width="1.1"/>
<circle cx="1618.0" cy="957.0" r="7.6" fill="#440154" fill-opacity="0.8" stroke="#440154" stroke-opacity="0.8" stroke-width="1.1"/>
<circle cx="1618.0" cy="942.0" r="7.6" fill="#440154" fill-opacity="0.8" stroke="#440154" stroke-opacity="0.8" stroke-width="1.1"/>
<circle cx="1619.0" cy="925.0" r="7.6" fill="#440154" fill-opacity="0.8" stroke="#440154" stroke-opacity="0.8" stroke-width="1.1"/>
<circle cx="1620.0" cy="910.0" r="7.6" fill="#440154" fill-opacity="0.8" stroke="#440154" stroke-opacity="0.8" stroke-width="1.1"/>
<circle cx="1656.0" cy="597.0" r="7.6" fill="#440154" fill-opacity="0.8" stroke="#440154" stroke-opacity="0.8" stroke-width="1.1"/>
<circle cx="1659.0" cy="653.0" r="7.6" fill="#440154" fill-opacity="0.8" stroke="#440154" stroke-opacity="0.8" stroke-width="1.1"/>
<circle cx="1659.0" cy="685.0" r="7.6" fill="#440154" fill-opacity="0.8" stroke="#440154" stroke-opacity="0.8" stroke-width="1.1"/>
<circle cx="1660.5" cy="722.0" r="7.6" fill="#440154" fill-opacity="0.8" stroke="#440154" stroke-opacity="0.8" stroke-width="1.1"/>
<circle cx="1662.7" cy="771.0" r="7.6" fill="#440154" fill-opacity="0.8" stroke="#440154" stroke-opacity="0.8" stroke-width="1.1"/>
<circle cx="1666.9" cy="811.6" r="7.6" fill="#440154" fill-opacity="0.8" stroke="#440154" stroke-opacity="0.8" stroke-width="1.1"/>
<circle cx="1665.9" cy="836.0" r="7.6" fill="#440154" fill-opacity="0.8" stroke="#440154" stroke-opacity="0.8" stroke-width="1.1"/>
<circle cx="1400.0" cy="1090.0" r="7.6" fill="#440154" fill-opacity="0.8" stroke="#440154" stroke-opacity="0.8" stroke-width="1.1"/>
<circle cx="1399.0" cy="1102.0" r="7.6" fill="#440154" fill-opacity="0.8" stroke="#440154" stroke-opacity="0.8" stroke-width="1.1"/>
<circle cx="1398.0" cy="1114.0" r="7.6" fill="#440154" fill-opacity="0.8" stroke="#440154" stroke-opacity="0.8" stroke-width="1.1"/>
<circle cx="1397.0" cy="1126.0" r="7.6" fill="#440154" fill-opacity="0.8" stroke="#440154" stroke-opacity="0.8" stroke-width="1.1"/>
<circle cx="1396.0" cy="1138.0" r="7.6" fill="#440154" fill-opacity="0.8" stroke="#440154" stroke-opacity="0.8" stroke-width="1.1"/>
<circle cx="1432.0" cy="1005.0" r="7.6" fill="#440154" fill-opacity="0.8" stroke="#440154" stroke-opacity="0.8" stroke-width="1.1"/>
<circle cx="1432.0" cy="1017.0" r="7.6" fill="#440154" fill-opacity="0.8" stroke="#440154" stroke-opacity="0.8" stroke-width="1.1"/>
<circle cx="1431.0" cy="1030.0" r="7.6" fill="#440154" fill-opacity="0.8" stroke="#440154" stroke-opacity="0.8" stroke-width="1.1"/>
<circle cx="1431.0" cy="1043.0" r="7.6" fill="#440154" fill-opacity="0.8" stroke="#440154" stroke-opacity="0.8" stroke-width="1.1"/>
<circle cx="1430.0" cy="1056.0" r="7.6" fill="#440154" fill-opacity="0.8" stroke="#440154" stroke-opacity="0.8" stroke-width="1.1"/>
<circle cx="1452.0" cy="910.0" r="7.6" fill="#440154" fill-opacity="0.8" stroke="#440154" stroke-opacity="0.8" stroke-width="1.1"/>
<circle cx="1452.0" cy="925.0" r="7.6" fill="#440154" fill-opacity="0.8" stroke="#440154" stroke-opacity="0.8" stroke-width="1.1"/>
<circle cx="1452.0" cy="940.0" r="7.6" fill="#440154" fill-opacity="0.8" stroke="#440154" stroke-opacity="0.8" stroke-width="1.1"/>
<circle cx="1453.0" cy="955.0" r="7.6" fill="#440154" fill-opacity="0.8" stroke="#440154" stroke-opacity="0.8" stroke-width="1.1"/>
<circle cx="1454.0" cy="970.0" r="7.6" fill="#440154" fill-opacity="0.8" stroke="#440154" stroke-opacity="0.8" stroke-width="1.1"/>
<circle cx="1456.0" cy="985.0" r="7.6" fill="#440154" fill-opacity="0.8" stroke="#440154" stroke-opacity="0.8" stroke-width="1.1"/>
<circle cx="1457.0" cy="1000.0" r="7.6" fill="#440154" fill-opacity="0.8" stroke="#440154" stroke-opacity="0.8" stroke-width="1.1"/>
<circle cx="1575.5" cy="550.7" r="7.6" fill="#31688E" fill-opacity="0.8" stroke="#31688E" stroke-opacity="0.8" stroke-width="1.1"/>
<circle cx="1580.8" cy="593.0" r="7.6" fill="#31688E" fill-opacity="0.8" stroke="#31688E" stroke-opacity="0.8" stroke-width="1.1"/>
<circle cx="1583.0" cy="636.0" r="7.6" fill="#31688E" fill-opacity="0.8" stroke="#31688E" stroke-opacity="0.8" stroke-width="1.1"/>
<circle cx="1581.6" cy="741.0" r="7.6" fill="#31688E" fill-opacity="0.8" stroke="#31688E" stroke-opacity="0.8" stroke-width="1.1"/>
<circle cx="1583.7" cy="811.6" r="7.6" fill="#31688E" fill-opacity="0.8" stroke="#31688E" stroke-opacity="0.8" stroke-width="1.1"/>
<circle cx="1584.8" cy="856.4" r="7.6" fill="#31688E" fill-opacity="0.8" stroke="#31688E" stroke-opacity="0.8" stroke-width="1.1"/>
<circle cx="1584.8" cy="907.6" r="7.6" fill="#31688E" fill-opacity="0.8" stroke="#31688E" stroke-opacity="0.8" stroke-width="1.1"/>
<circle cx="1585.9" cy="954.5" r="7.6" fill="#31688E" fill-opacity="0.8" stroke="#31688E" stroke-opacity="0.8" stroke-width="1.1"/>
<circle cx="1587.0" cy="1005.0" r="7.6" fill="#31688E" fill-opacity="0.8" stroke="#31688E" stroke-opacity="0.8" stroke-width="1.1"/>
<circle cx="1587.0" cy="1057.6" r="7.6" fill="#31688E" fill-opacity="0.8" stroke="#31688E" stroke-opacity="0.8" stroke-width="1.1"/>
<circle cx="1588.0" cy="1106.7" r="7.6" fill="#31688E" fill-opacity="0.8" stroke="#31688E" stroke-opacity="0.8" stroke-width="1.1"/>
<circle cx="1589.0" cy="1143.0" r="7.6" fill="#31688E" fill-opacity="0.8" stroke="#31688E" stroke-opacity="0.8" stroke-width="1.1"/>
<circle cx="1590.0" cy="1170.7" r="7.6" fill="#31688E" fill-opacity="0.8" stroke="#31688E" stroke-opacity="0.8" stroke-width="1.1"/>
<circle cx="1591.0" cy="1188.0" r="7.6" fill="#31688E" fill-opacity="0.8" stroke="#31688E" stroke-opacity="0.8" stroke-width="1.1"/>
<circle cx="1604.0" cy="1088.5" r="7.6" fill="#31688E" fill-opacity="0.8" stroke="#31688E" stroke-opacity="0.8" stroke-width="1.1"/>
<circle cx="1602.0" cy="1119.5" r="7.6" fill="#31688E" fill-opacity="0.8" stroke="#31688E" stroke-opacity="0.8" stroke-width="1.1"/>
<circle cx="1602.0" cy="1138.7" r="7.6" fill="#31688E" fill-opacity="0.8" stroke="#31688E" stroke-opacity="0.8" stroke-width="1.1"/>
<circle cx="1657.0" cy="829.0" r="7.6" fill="#31688E" fill-opacity="0.8" stroke="#31688E" stroke-opacity="0.8" stroke-width="1.1"/>
<circle cx="1655.0" cy="846.0" r="7.6" fill="#31688E" fill-opacity="0.8" stroke="#31688E" stroke-opacity="0.8" stroke-width="1.1"/>
<circle cx="1604.0" cy="980.0" r="7.6" fill="#31688E" fill-opacity="0.8" stroke="#31688E" stroke-opacity="0.8" stroke-width="1.1"/>
<circle cx="1658.4" cy="909.7" r="7.6" fill="#31688E" fill-opacity="0.8" stroke="#31688E" stroke-opacity="0.8" stroke-width="1.1"/>
<circle cx="1659.5" cy="920.0" r="7.6" fill="#31688E" fill-opacity="0.8" stroke="#31688E" stroke-opacity="0.8" stroke-width="1.1"/>
<circle cx="1659.5" cy="945.0" r="7.6" fill="#31688E" fill-opacity="0.8" stroke="#31688E" stroke-opacity="0.8" stroke-width="1.1"/>
<circle cx="1659.5" cy="984.0" r="7.6" fill="#31688E" fill-opacity="0.8" stroke="#31688E" stroke-opacity="0.8" stroke-width="1.1"/>
<circle cx="1661.6" cy="1022.4" r="7.6" fill="#31688E" fill-opacity="0.8" stroke="#31688E" stroke-opacity="0.8" stroke-width="1.1"/>
<circle cx="1662.7" cy="1050.0" r="7.6" fill="#31688E" fill-opacity="0.8" stroke="#31688E" stroke-opacity="0.8" stroke-width="1.1"/>
<circle cx="1663.7" cy="1061.0" r="7.6" fill="#31688E" fill-opacity="0.8" stroke="#31688E" stroke-opacity="0.8" stroke-width="1.1"/>
<circle cx="1664.8" cy="1083.0" r="7.6" fill="#31688E" fill-opacity="0.8" stroke="#31688E" stroke-opacity="0.8" stroke-width="1.1"/>
<circle cx="1665.9" cy="1134.4" r="7.6" fill="#31688E" fill-opacity="0.8" stroke="#31688E" stroke-opacity="0.8" stroke-width="1.1"/>
<circle cx="1445.0" cy="1005.0" r="7.6" fill="#31688E" fill-opacity="0.8" stroke="#31688E" stroke-opacity="0.8" stroke-width="1.1"/>
<circle cx="1448.0" cy="1030.0" r="7.6" fill="#31688E" fill-opacity="0.8" stroke="#31688E" stroke-opacity="0.8" stroke-width="1.1"/>
<circle cx="1450.0" cy="1050.0" r="7.6" fill="#31688E" fill-opacity="0.8" stroke="#31688E" stroke-opacity="0.8" stroke-width="1.1"/>
<circle cx="1452.0" cy="1070.0" r="7.6" fill="#31688E" fill-opacity="0.8" stroke="#31688E" stroke-opacity="0.8" stroke-width="1.1"/>
<circle cx="1455.0" cy="1090.0" r="7.6" fill="#31688E" fill-opacity="0.8" stroke="#31688E" stroke-opacity="0.8" stroke-width="1.1"/>
<circle cx="1572.3" cy="604.0" r="7.6" fill="#35B779" fill-opacity="0.8" stroke="#35B779" stroke-opacity="0.8" stroke-width="1.1"/>
<circle cx="1576.5" cy="646.7" r="7.6" fill="#35B779" fill-opacity="0.8" stroke="#35B779" stroke-opacity="0.8" stroke-width="1.1"/>
<circle cx="1578.7" cy="689.0" r="7.6" fill="#35B779" fill-opacity="0.8" stroke="#35B779" stroke-opacity="0.8" stroke-width="1.1"/>
<circle cx="1580.5" cy="692.0" r="7.6" fill="#35B779" fill-opacity="0.8" stroke="#35B779" stroke-opacity="0.8" stroke-width="1.1"/>
<circle cx="1581.6" cy="710.0" r="7.6" fill="#35B779" fill-opacity="0.8" stroke="#35B779" stroke-opacity="0.8" stroke-width="1.1"/>
<circle cx="1580.5" cy="729.5" r="7.6" fill="#35B779" fill-opacity="0.8" stroke="#35B779" stroke-opacity="0.8" stroke-width="1.1"/>
<circle cx="1582.7" cy="752.0" r="7.6" fill="#35B779" fill-opacity="0.8" stroke="#35B779" stroke-opacity="0.8" stroke-width="1.1"/>
<circle cx="1582.7" cy="775.0" r="7.6" fill="#35B779" fill-opacity="0.8" stroke="#35B779" stroke-opacity="0.8" stroke-width="1.1"/>
<circle cx="1583.7" cy="803.0" r="7.6" fill="#35B779" fill-opacity="0.8" stroke="#35B779" stroke-opacity="0.8" stroke-width="1.1"/>
<circle cx="1583.7" cy="835.0" r="7.6" fill="#35B779" fill-opacity="0.8" stroke="#35B779" stroke-opacity="0.8" stroke-width="1.1"/>
<circle cx="1584.8" cy="868.0" r="7.6" fill="#35B779" fill-opacity="0.8" stroke="#35B779" stroke-opacity="0.8" stroke-width="1.1"/>
<circle cx="1586.9" cy="982.0" r="7.6" fill="#35B779" fill-opacity="0.8" stroke="#35B779" stroke-opacity="0.8" stroke-width="1.1"/>
<circle cx="1656.3" cy="651.0" r="7.6" fill="#35B779" fill-opacity="0.8" stroke="#35B779" stroke-opacity="0.8" stroke-width="1.1"/>
<circle cx="1656.3" cy="674.0" r="7.6" fill="#35B779" fill-opacity="0.8" stroke="#35B779" stroke-opacity="0.8" stroke-width="1.1"/>
<circle cx="1656.3" cy="698.5" r="7.6" fill="#35B779" fill-opacity="0.8" stroke="#35B779" stroke-opacity="0.8" stroke-width="1.1"/>
<circle cx="1658.4" cy="749.7" r="7.6" fill="#35B779" fill-opacity="0.8" stroke="#35B779" stroke-opacity="0.8" stroke-width="1.1"/>
<circle cx="1663.7" cy="779.6" r="7.6" fill="#35B779" fill-opacity="0.8" stroke="#35B779" stroke-opacity="0.8" stroke-width="1.1"/>
<circle cx="1661.6" cy="824.4" r="7.6" fill="#35B779" fill-opacity="0.8" stroke="#35B779" stroke-opacity="0.8" stroke-width="1.1"/>
<circle cx="1661.6" cy="860.7" r="7.6" fill="#35B779" fill-opacity="0.8" stroke="#35B779" stroke-opacity="0.8" stroke-width="1.1"/>
<circle cx="1658.4" cy="869.2" r="7.6" fill="#35B779" fill-opacity="0.8" stroke="#35B779" stroke-opacity="0.8" stroke-width="1.1"/>
<circle cx="1661.6" cy="889.5" r="7.6" fill="#35B779" fill-opacity="0.8" stroke="#35B779" stroke-opacity="0.8" stroke-width="1.1"/>
<circle cx="1662.7" cy="903.3" r="7.6" fill="#35B779" fill-opacity="0.8" stroke="#35B779" stroke-opacity="0.8" stroke-width="1.1"/>
<circle cx="1663.7" cy="916.1" r="7.6" fill="#35B779" fill-opacity="0.8" stroke="#35B779" stroke-opacity="0.8" stroke-width="1.1"/>
<circle cx="1665.9" cy="960.9" r="7.6" fill="#35B779" fill-opacity="0.8" stroke="#35B779" stroke-opacity="0.8" stroke-width="1.1"/>
<circle cx="1665.9" cy="1043.7" r="7.6" fill="#35B779" fill-opacity="0.8" stroke="#35B779" stroke-opacity="0.8" stroke-width="1.1"/>
<circle cx="1400.0" cy="1150.0" r="7.6" fill="#35B779" fill-opacity="0.8" stroke="#35B779" stroke-opacity="0.8" stroke-width="1.1"/>
<circle cx="1400.0" cy="1165.0" r="7.6" fill="#35B779" fill-opacity="0.8" stroke="#35B779" stroke-opacity="0.8" stroke-width="1.1"/>
<circle cx="1401.0" cy="1180.0" r="7.6" fill="#35B779" fill-opacity="0.8" stroke="#35B779" stroke-opacity="0.8" stroke-width="1.1"/>
<circle cx="1401.0" cy="1195.0" r="7.6" fill="#35B779" fill-opacity="0.8" stroke="#35B779" stroke-opacity="0.8" stroke-width="1.1"/>
<circle cx="1402.0" cy="1210.0" r="7.6" fill="#35B779" fill-opacity="0.8" stroke="#35B779" stroke-opacity="0.8" stroke-width="1.1"/>
<circle cx="1430.0" cy="1070.0" r="7.6" fill="#35B779" fill-opacity="0.8" stroke="#35B779" stroke-opacity="0.8" stroke-width="1.1"/>
<circle cx="1431.0" cy="1085.0" r="7.6" fill="#35B779" fill-opacity="0.8" stroke="#35B779" stroke-opacity="0.8" stroke-width="1.1"/>
<circle cx="1431.0" cy="1100.0" r="7.6" fill="#35B779" fill-opacity="0.8" stroke="#35B779" stroke-opacity="0.8" stroke-width="1.1"/>
<circle cx="1432.0" cy="1115.0" r="7.6" fill="#35B779" fill-opacity="0.8" stroke="#35B779" stroke-opacity="0.8" stroke-width="1.1"/>
<circle cx="1432.0" cy="1130.0" r="7.6" fill="#35B779" fill-opacity="0.8" stroke="#35B779" stroke-opacity="0.8" stroke-width="1.1"/>
<circle cx="1604.0" cy="826.0" r="7.6" fill="#35B779" fill-opacity="0.8" stroke="#35B779" stroke-opacity="0.8" stroke-width="1.1"/>
<circle cx="1604.0" cy="850.0" r="7.6" fill="#35B779" fill-opacity="0.8" stroke="#35B779" stroke-opacity="0.8" stroke-width="1.1"/>
<circle cx="1606.0" cy="875.0" r="7.6" fill="#35B779" fill-opacity="0.8" stroke="#35B779" stroke-opacity="0.8" stroke-width="1.1"/>
<circle cx="1600.0" cy="1020.0" r="7.6" fill="#FDE725" fill-opacity="0.8" stroke="#FDE725" stroke-opacity="0.8" stroke-width="1.1"/>
<circle cx="1597.0" cy="1040.0" r="7.6" fill="#35B779" fill-opacity="0.8" stroke="#35B779" stroke-opacity="0.8" stroke-width="1.1"/>
<circle cx="1594.0" cy="1130.0" r="7.6" fill="#440154" fill-opacity="0.8" stroke="#440154" stroke-opacity="0.8" stroke-width="1.1"/>
<circle cx="1596.0" cy="1112.0" r="7.6" fill="#FDE725" fill-opacity="0.8" stroke="#FDE725" stroke-opacity="0.8" stroke-width="1.1"/>
<circle cx="1600.0" cy="1170.0" r="7.6" fill="#31688E" fill-opacity="0.8" stroke="#31688E" stroke-opacity="0.8" stroke-width="1.1"/>
<circle cx="1596.0" cy="1145.0" r="7.6" fill="#440154" fill-opacity="0.8" stroke="#440154" stroke-opacity="0.8" stroke-width="1.1"/>
<circle cx="1592.0" cy="1100.0" r="7.6" fill="#35B779" fill-opacity="0.8" stroke="#35B779" stroke-opacity="0.8" stroke-width="1.1"/>
<circle cx="1594.0" cy="1080.0" r="7.6" fill="#31688E" fill-opacity="0.8" stroke="#31688E" stroke-opacity="0.8" stroke-width="1.1"/>
<circle cx="1584.0" cy="1075.0" r="7.6" fill="#FDE725" fill-opacity="0.8" stroke="#FDE725" stroke-opacity="0.8" stroke-width="1.1"/>
<circle cx="1585.0" cy="1095.0" r="7.6" fill="#440154" fill-opacity="0.8" stroke="#440154" stroke-opacity="0.8" stroke-width="1.1"/>
<circle cx="1589.0" cy="1125.0" r="7.6" fill="#31688E" fill-opacity="0.8" stroke="#31688E" stroke-opacity="0.8" stroke-width="1.1"/>
</g>
<rect x="136" y="24" width="1601.3" height="1321.3" fill="none" stroke="#000" stroke-width="4"/>
<path d="M207.4 1347.3V1358M612.5 1347.3V1358M1017.5 1347.3V1358M1422.6 1347.3V1358M123 1300.4H134M123 921.7H134M123 543.1H134M123 164.4H134" stroke="#333" stroke-width="4" fill="none"/>
<text x="207.4" y="1394" font-family="Liberation Serif, serif" font-size="37.6" fill="#4D4D4D" text-anchor="middle">4000</text>
<text x="612.5" y="1394" font-family="Liberation Serif, serif" font-size="37.6" fill="#4D4D4D" text-anchor="middle">3000</text>
<text x="1017.5" y="1394" font-family="Liberation Serif, serif" font-size="37.6" fill="#4D4D4D" text-anchor="middle">2000</text>
<text x="1422.6" y="1394" font-family="Liberation Serif, serif" font-size="37.6" fill="#4D4D4D" text-anchor="middle">1000</text>
<text x="113.5" y="1313.9" font-family="Liberation Serif, serif" font-size="37.6" fill="#4D4D4D" text-anchor="end">0</text>
<text x="113.5" y="935.2" font-family="Liberation Serif, serif" font-size="37.6" fill="#4D4D4D" text-anchor="end">10</text>
<text x="113.5" y="556.6" font-family="Liberation Serif, serif" font-size="37.6" fill="#4D4D4D" text-anchor="end">20</text>
<text x="113.5" y="177.9" font-family="Liberation Serif, serif" font-size="37.6" fill="#4D4D4D" text-anchor="end">30</text>
<text font-family="Liberation Serif, serif" font-size="46" fill="#000" transform="translate(56 685) rotate(-90)" text-anchor="middle">transmittance</text>
<text x="747.5" y="1456" font-family="Liberation Serif, serif" font-size="45.3" fill="#000">Wavenumber <tspan font-size="55">(</tspan>cm<tspan dy="-20" font-size="33">−1</tspan><tspan dy="20" font-size="55">)</tspan></text>
<text x="1807" y="547" font-family="Liberation Serif, serif" font-size="46" fill="#000">spectra</text>
<circle cx="1842.8" cy="609" r="7.6" fill="#440154" fill-opacity="0.8" stroke="#440154" stroke-opacity="0.8" stroke-width="1.1"/>
<text x="1902.4" y="623" font-family="Liberation Serif, serif" font-size="36" fill="#000">CoHA01</text>
<circle cx="1842.8" cy="681" r="7.6" fill="#31688E" fill-opacity="0.8" stroke="#31688E" stroke-opacity="0.8" stroke-width="1.1"/>
<text x="1902.4" y="695" font-family="Liberation Serif, serif" font-size="36" fill="#000">CoHA025</text>
<circle cx="1842.8" cy="753" r="7.6" fill="#35B779" fill-opacity="0.8" stroke="#35B779" stroke-opacity="0.8" stroke-width="1.1"/>
<text x="1902.4" y="767" font-family="Liberation Serif, serif" font-size="36" fill="#000">CoHA05</text>
<circle cx="1842.8" cy="825" r="7.6" fill="#FDE725" fill-opacity="0.8" stroke="#FDE725" stroke-opacity="0.8" stroke-width="1.1"/>
<text x="1902.4" y="839" font-family="Liberation Serif, serif" font-size="36" fill="#000">CoHA100</text>
</svg>
</body></html>
